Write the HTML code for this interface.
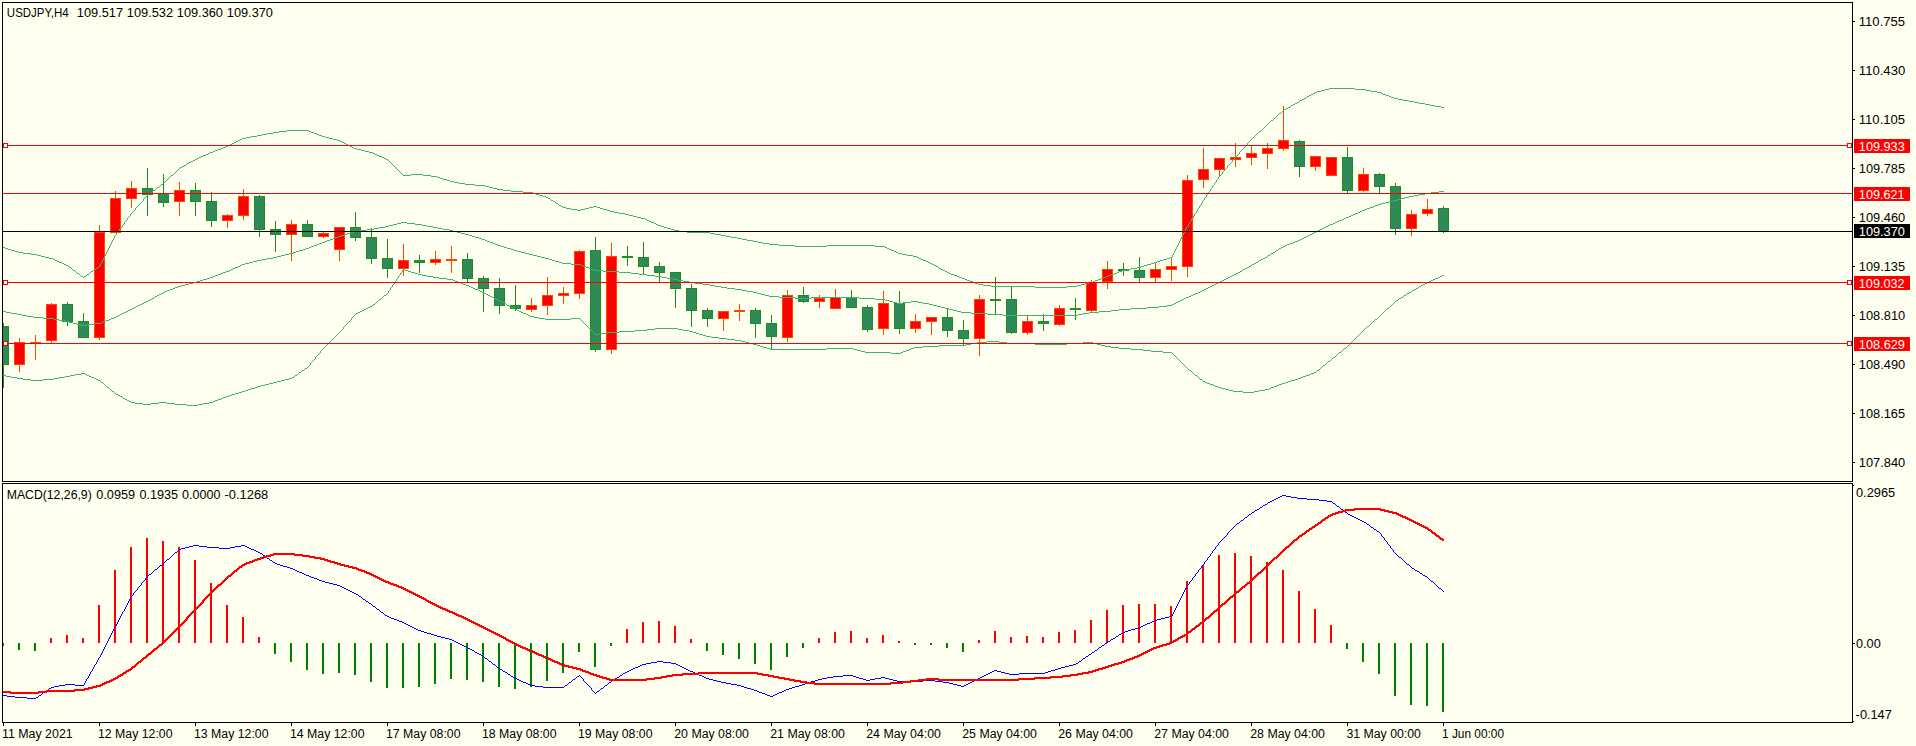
<!DOCTYPE html>
<html><head><meta charset="utf-8"><style>
html,body{margin:0;padding:0;background:#fffff0;width:1916px;height:746px;overflow:hidden}
svg{display:block}
text{font-family:"Liberation Sans", sans-serif;font-size:12.5px}
</style></head><body>
<svg width="1916" height="746" viewBox="0 0 1916 746">
<rect x="0" y="0" width="1916" height="746" fill="#fffff0"/>

<defs><clipPath id="cm"><rect x="3" y="3" width="1849" height="478"/></clipPath><clipPath id="cd"><rect x="3" y="484" width="1849" height="238"/></clipPath></defs>
<g clip-path="url(#cm)" shape-rendering="crispEdges">
<rect x="3" y="323" width="1" height="65" fill="#228b22"/>
<rect x="-2" y="326" width="11" height="39" fill="#228b22"/>
<rect x="-1" y="327" width="9" height="37" fill="#2e8b57"/>
<rect x="19" y="338" width="1" height="34" fill="#ff4500"/>
<rect x="14" y="342" width="11" height="23" fill="#ff4500"/>
<rect x="15" y="343" width="9" height="21" fill="#ff0000"/>
<rect x="35" y="335" width="1" height="25" fill="#ff4500"/>
<rect x="30" y="342" width="11" height="1" fill="#ff4500"/>
<rect x="51" y="303" width="1" height="40" fill="#ff4500"/>
<rect x="46" y="304" width="11" height="37" fill="#ff4500"/>
<rect x="47" y="305" width="9" height="35" fill="#ff0000"/>
<rect x="67" y="302" width="1" height="24" fill="#228b22"/>
<rect x="62" y="304" width="11" height="18" fill="#228b22"/>
<rect x="63" y="305" width="9" height="16" fill="#2e8b57"/>
<rect x="83" y="313" width="1" height="25" fill="#228b22"/>
<rect x="78" y="321" width="11" height="17" fill="#228b22"/>
<rect x="79" y="322" width="9" height="15" fill="#2e8b57"/>
<rect x="99" y="225" width="1" height="115" fill="#ff4500"/>
<rect x="94" y="232" width="11" height="106" fill="#ff4500"/>
<rect x="95" y="233" width="9" height="104" fill="#ff0000"/>
<rect x="115" y="191" width="1" height="42" fill="#ff4500"/>
<rect x="110" y="198" width="11" height="35" fill="#ff4500"/>
<rect x="111" y="199" width="9" height="33" fill="#ff0000"/>
<rect x="131" y="181" width="1" height="27" fill="#ff4500"/>
<rect x="126" y="188" width="11" height="11" fill="#ff4500"/>
<rect x="127" y="189" width="9" height="9" fill="#ff0000"/>
<rect x="147" y="168" width="1" height="48" fill="#228b22"/>
<rect x="142" y="188" width="11" height="7" fill="#228b22"/>
<rect x="143" y="189" width="9" height="5" fill="#2e8b57"/>
<rect x="163" y="174" width="1" height="33" fill="#228b22"/>
<rect x="158" y="193" width="11" height="10" fill="#228b22"/>
<rect x="159" y="194" width="9" height="8" fill="#2e8b57"/>
<rect x="179" y="182" width="1" height="34" fill="#ff4500"/>
<rect x="174" y="190" width="11" height="12" fill="#ff4500"/>
<rect x="175" y="191" width="9" height="10" fill="#ff0000"/>
<rect x="195" y="183" width="1" height="33" fill="#228b22"/>
<rect x="190" y="190" width="11" height="12" fill="#228b22"/>
<rect x="191" y="191" width="9" height="10" fill="#2e8b57"/>
<rect x="211" y="192" width="1" height="35" fill="#228b22"/>
<rect x="206" y="201" width="11" height="20" fill="#228b22"/>
<rect x="207" y="202" width="9" height="18" fill="#2e8b57"/>
<rect x="227" y="214" width="1" height="14" fill="#ff4500"/>
<rect x="222" y="215" width="11" height="6" fill="#ff4500"/>
<rect x="223" y="216" width="9" height="4" fill="#ff0000"/>
<rect x="243" y="189" width="1" height="31" fill="#ff4500"/>
<rect x="238" y="196" width="11" height="20" fill="#ff4500"/>
<rect x="239" y="197" width="9" height="18" fill="#ff0000"/>
<rect x="259" y="195" width="1" height="42" fill="#228b22"/>
<rect x="254" y="196" width="11" height="34" fill="#228b22"/>
<rect x="255" y="197" width="9" height="32" fill="#2e8b57"/>
<rect x="275" y="221" width="1" height="31" fill="#228b22"/>
<rect x="270" y="229" width="11" height="6" fill="#228b22"/>
<rect x="271" y="230" width="9" height="4" fill="#2e8b57"/>
<rect x="291" y="220" width="1" height="41" fill="#ff4500"/>
<rect x="286" y="224" width="11" height="11" fill="#ff4500"/>
<rect x="287" y="225" width="9" height="9" fill="#ff0000"/>
<rect x="307" y="220" width="1" height="17" fill="#228b22"/>
<rect x="302" y="224" width="11" height="13" fill="#228b22"/>
<rect x="303" y="225" width="9" height="11" fill="#2e8b57"/>
<rect x="323" y="231" width="1" height="7" fill="#ff4500"/>
<rect x="318" y="233" width="11" height="4" fill="#ff4500"/>
<rect x="319" y="234" width="9" height="2" fill="#ff0000"/>
<rect x="339" y="227" width="1" height="34" fill="#ff4500"/>
<rect x="334" y="227" width="11" height="23" fill="#ff4500"/>
<rect x="335" y="228" width="9" height="21" fill="#ff0000"/>
<rect x="355" y="212" width="1" height="29" fill="#228b22"/>
<rect x="350" y="227" width="11" height="11" fill="#228b22"/>
<rect x="351" y="228" width="9" height="9" fill="#2e8b57"/>
<rect x="371" y="228" width="1" height="36" fill="#228b22"/>
<rect x="366" y="237" width="11" height="22" fill="#228b22"/>
<rect x="367" y="238" width="9" height="20" fill="#2e8b57"/>
<rect x="387" y="239" width="1" height="39" fill="#228b22"/>
<rect x="382" y="258" width="11" height="11" fill="#228b22"/>
<rect x="383" y="259" width="9" height="9" fill="#2e8b57"/>
<rect x="403" y="244" width="1" height="32" fill="#ff4500"/>
<rect x="398" y="260" width="11" height="9" fill="#ff4500"/>
<rect x="399" y="261" width="9" height="7" fill="#ff0000"/>
<rect x="419" y="255" width="1" height="18" fill="#228b22"/>
<rect x="414" y="260" width="11" height="3" fill="#228b22"/>
<rect x="415" y="261" width="9" height="1" fill="#2e8b57"/>
<rect x="435" y="251" width="1" height="14" fill="#ff4500"/>
<rect x="430" y="259" width="11" height="4" fill="#ff4500"/>
<rect x="431" y="260" width="9" height="2" fill="#ff0000"/>
<rect x="451" y="246" width="1" height="27" fill="#ff4500"/>
<rect x="446" y="259" width="11" height="2" fill="#ff4500"/>
<rect x="467" y="253" width="1" height="30" fill="#228b22"/>
<rect x="462" y="259" width="11" height="20" fill="#228b22"/>
<rect x="463" y="260" width="9" height="18" fill="#2e8b57"/>
<rect x="483" y="276" width="1" height="36" fill="#228b22"/>
<rect x="478" y="278" width="11" height="11" fill="#228b22"/>
<rect x="479" y="279" width="9" height="9" fill="#2e8b57"/>
<rect x="499" y="278" width="1" height="36" fill="#228b22"/>
<rect x="494" y="288" width="11" height="18" fill="#228b22"/>
<rect x="495" y="289" width="9" height="16" fill="#2e8b57"/>
<rect x="515" y="285" width="1" height="26" fill="#228b22"/>
<rect x="510" y="305" width="11" height="4" fill="#228b22"/>
<rect x="511" y="306" width="9" height="2" fill="#2e8b57"/>
<rect x="531" y="298" width="1" height="14" fill="#ff4500"/>
<rect x="526" y="305" width="11" height="5" fill="#ff4500"/>
<rect x="527" y="306" width="9" height="3" fill="#ff0000"/>
<rect x="547" y="277" width="1" height="38" fill="#ff4500"/>
<rect x="542" y="295" width="11" height="11" fill="#ff4500"/>
<rect x="543" y="296" width="9" height="9" fill="#ff0000"/>
<rect x="563" y="287" width="1" height="17" fill="#ff4500"/>
<rect x="558" y="293" width="11" height="3" fill="#ff4500"/>
<rect x="559" y="294" width="9" height="1" fill="#ff0000"/>
<rect x="579" y="250" width="1" height="49" fill="#ff4500"/>
<rect x="574" y="251" width="11" height="43" fill="#ff4500"/>
<rect x="575" y="252" width="9" height="41" fill="#ff0000"/>
<rect x="595" y="237" width="1" height="115" fill="#228b22"/>
<rect x="590" y="250" width="11" height="100" fill="#228b22"/>
<rect x="591" y="251" width="9" height="98" fill="#2e8b57"/>
<rect x="611" y="243" width="1" height="111" fill="#ff4500"/>
<rect x="606" y="256" width="11" height="94" fill="#ff4500"/>
<rect x="607" y="257" width="9" height="92" fill="#ff0000"/>
<rect x="627" y="246" width="1" height="20" fill="#228b22"/>
<rect x="622" y="256" width="11" height="2" fill="#228b22"/>
<rect x="643" y="242" width="1" height="33" fill="#228b22"/>
<rect x="638" y="257" width="11" height="10" fill="#228b22"/>
<rect x="639" y="258" width="9" height="8" fill="#2e8b57"/>
<rect x="659" y="262" width="1" height="20" fill="#228b22"/>
<rect x="654" y="266" width="11" height="7" fill="#228b22"/>
<rect x="655" y="267" width="9" height="5" fill="#2e8b57"/>
<rect x="675" y="272" width="1" height="36" fill="#228b22"/>
<rect x="670" y="272" width="11" height="17" fill="#228b22"/>
<rect x="671" y="273" width="9" height="15" fill="#2e8b57"/>
<rect x="691" y="284" width="1" height="43" fill="#228b22"/>
<rect x="686" y="288" width="11" height="23" fill="#228b22"/>
<rect x="687" y="289" width="9" height="21" fill="#2e8b57"/>
<rect x="707" y="308" width="1" height="19" fill="#228b22"/>
<rect x="702" y="310" width="11" height="9" fill="#228b22"/>
<rect x="703" y="311" width="9" height="7" fill="#2e8b57"/>
<rect x="723" y="311" width="1" height="20" fill="#ff4500"/>
<rect x="718" y="311" width="11" height="8" fill="#ff4500"/>
<rect x="719" y="312" width="9" height="6" fill="#ff0000"/>
<rect x="739" y="304" width="1" height="17" fill="#ff4500"/>
<rect x="734" y="310" width="11" height="2" fill="#ff4500"/>
<rect x="755" y="308" width="1" height="30" fill="#228b22"/>
<rect x="750" y="310" width="11" height="14" fill="#228b22"/>
<rect x="751" y="311" width="9" height="12" fill="#2e8b57"/>
<rect x="771" y="315" width="1" height="34" fill="#228b22"/>
<rect x="766" y="323" width="11" height="14" fill="#228b22"/>
<rect x="767" y="324" width="9" height="12" fill="#2e8b57"/>
<rect x="787" y="290" width="1" height="52" fill="#ff4500"/>
<rect x="782" y="295" width="11" height="43" fill="#ff4500"/>
<rect x="783" y="296" width="9" height="41" fill="#ff0000"/>
<rect x="803" y="287" width="1" height="16" fill="#228b22"/>
<rect x="798" y="295" width="11" height="7" fill="#228b22"/>
<rect x="799" y="296" width="9" height="5" fill="#2e8b57"/>
<rect x="819" y="295" width="1" height="13" fill="#ff4500"/>
<rect x="814" y="298" width="11" height="4" fill="#ff4500"/>
<rect x="815" y="299" width="9" height="2" fill="#ff0000"/>
<rect x="835" y="289" width="1" height="20" fill="#ff4500"/>
<rect x="830" y="297" width="11" height="12" fill="#ff4500"/>
<rect x="831" y="298" width="9" height="10" fill="#ff0000"/>
<rect x="851" y="290" width="1" height="18" fill="#228b22"/>
<rect x="846" y="297" width="11" height="11" fill="#228b22"/>
<rect x="847" y="298" width="9" height="9" fill="#2e8b57"/>
<rect x="867" y="305" width="1" height="27" fill="#228b22"/>
<rect x="862" y="307" width="11" height="23" fill="#228b22"/>
<rect x="863" y="308" width="9" height="21" fill="#2e8b57"/>
<rect x="883" y="291" width="1" height="44" fill="#ff4500"/>
<rect x="878" y="303" width="11" height="26" fill="#ff4500"/>
<rect x="879" y="304" width="9" height="24" fill="#ff0000"/>
<rect x="899" y="291" width="1" height="43" fill="#228b22"/>
<rect x="894" y="303" width="11" height="26" fill="#228b22"/>
<rect x="895" y="304" width="9" height="24" fill="#2e8b57"/>
<rect x="915" y="314" width="1" height="19" fill="#ff4500"/>
<rect x="910" y="321" width="11" height="8" fill="#ff4500"/>
<rect x="911" y="322" width="9" height="6" fill="#ff0000"/>
<rect x="931" y="317" width="1" height="18" fill="#ff4500"/>
<rect x="926" y="317" width="11" height="5" fill="#ff4500"/>
<rect x="927" y="318" width="9" height="3" fill="#ff0000"/>
<rect x="947" y="308" width="1" height="29" fill="#228b22"/>
<rect x="942" y="317" width="11" height="14" fill="#228b22"/>
<rect x="943" y="318" width="9" height="12" fill="#2e8b57"/>
<rect x="963" y="320" width="1" height="25" fill="#228b22"/>
<rect x="958" y="330" width="11" height="9" fill="#228b22"/>
<rect x="959" y="331" width="9" height="7" fill="#2e8b57"/>
<rect x="979" y="295" width="1" height="61" fill="#ff4500"/>
<rect x="974" y="299" width="11" height="40" fill="#ff4500"/>
<rect x="975" y="300" width="9" height="38" fill="#ff0000"/>
<rect x="995" y="277" width="1" height="37" fill="#228b22"/>
<rect x="990" y="299" width="11" height="2" fill="#228b22"/>
<rect x="1011" y="287" width="1" height="47" fill="#228b22"/>
<rect x="1006" y="299" width="11" height="34" fill="#228b22"/>
<rect x="1007" y="300" width="9" height="32" fill="#2e8b57"/>
<rect x="1027" y="316" width="1" height="19" fill="#ff4500"/>
<rect x="1022" y="321" width="11" height="12" fill="#ff4500"/>
<rect x="1023" y="322" width="9" height="10" fill="#ff0000"/>
<rect x="1043" y="314" width="1" height="17" fill="#228b22"/>
<rect x="1038" y="321" width="11" height="3" fill="#228b22"/>
<rect x="1039" y="322" width="9" height="1" fill="#2e8b57"/>
<rect x="1059" y="305" width="1" height="21" fill="#ff4500"/>
<rect x="1054" y="308" width="11" height="17" fill="#ff4500"/>
<rect x="1055" y="309" width="9" height="15" fill="#ff0000"/>
<rect x="1075" y="298" width="1" height="22" fill="#228b22"/>
<rect x="1070" y="308" width="11" height="2" fill="#228b22"/>
<rect x="1091" y="280" width="1" height="32" fill="#ff4500"/>
<rect x="1086" y="282" width="11" height="29" fill="#ff4500"/>
<rect x="1087" y="283" width="9" height="27" fill="#ff0000"/>
<rect x="1107" y="261" width="1" height="28" fill="#ff4500"/>
<rect x="1102" y="269" width="11" height="13" fill="#ff4500"/>
<rect x="1103" y="270" width="9" height="11" fill="#ff0000"/>
<rect x="1123" y="263" width="1" height="13" fill="#228b22"/>
<rect x="1118" y="269" width="11" height="2" fill="#228b22"/>
<rect x="1139" y="257" width="1" height="25" fill="#228b22"/>
<rect x="1134" y="270" width="11" height="8" fill="#228b22"/>
<rect x="1135" y="271" width="9" height="6" fill="#2e8b57"/>
<rect x="1155" y="263" width="1" height="19" fill="#ff4500"/>
<rect x="1150" y="269" width="11" height="9" fill="#ff4500"/>
<rect x="1151" y="270" width="9" height="7" fill="#ff0000"/>
<rect x="1171" y="258" width="1" height="23" fill="#ff4500"/>
<rect x="1166" y="266" width="11" height="4" fill="#ff4500"/>
<rect x="1167" y="267" width="9" height="2" fill="#ff0000"/>
<rect x="1187" y="175" width="1" height="102" fill="#ff4500"/>
<rect x="1182" y="180" width="11" height="87" fill="#ff4500"/>
<rect x="1183" y="181" width="9" height="85" fill="#ff0000"/>
<rect x="1203" y="148" width="1" height="40" fill="#ff4500"/>
<rect x="1198" y="169" width="11" height="11" fill="#ff4500"/>
<rect x="1199" y="170" width="9" height="9" fill="#ff0000"/>
<rect x="1219" y="158" width="1" height="19" fill="#ff4500"/>
<rect x="1214" y="158" width="11" height="12" fill="#ff4500"/>
<rect x="1215" y="159" width="9" height="10" fill="#ff0000"/>
<rect x="1235" y="143" width="1" height="24" fill="#ff4500"/>
<rect x="1230" y="157" width="11" height="3" fill="#ff4500"/>
<rect x="1231" y="158" width="9" height="1" fill="#ff0000"/>
<rect x="1251" y="145" width="1" height="20" fill="#ff4500"/>
<rect x="1246" y="153" width="11" height="5" fill="#ff4500"/>
<rect x="1247" y="154" width="9" height="3" fill="#ff0000"/>
<rect x="1267" y="143" width="1" height="26" fill="#ff4500"/>
<rect x="1262" y="148" width="11" height="6" fill="#ff4500"/>
<rect x="1263" y="149" width="9" height="4" fill="#ff0000"/>
<rect x="1283" y="106" width="1" height="45" fill="#ff4500"/>
<rect x="1278" y="140" width="11" height="9" fill="#ff4500"/>
<rect x="1279" y="141" width="9" height="7" fill="#ff0000"/>
<rect x="1299" y="140" width="1" height="37" fill="#228b22"/>
<rect x="1294" y="141" width="11" height="26" fill="#228b22"/>
<rect x="1295" y="142" width="9" height="24" fill="#2e8b57"/>
<rect x="1315" y="156" width="1" height="15" fill="#ff4500"/>
<rect x="1310" y="156" width="11" height="11" fill="#ff4500"/>
<rect x="1311" y="157" width="9" height="9" fill="#ff0000"/>
<rect x="1331" y="157" width="1" height="19" fill="#ff4500"/>
<rect x="1326" y="157" width="11" height="19" fill="#ff4500"/>
<rect x="1327" y="158" width="9" height="17" fill="#ff0000"/>
<rect x="1347" y="147" width="1" height="46" fill="#228b22"/>
<rect x="1342" y="157" width="11" height="34" fill="#228b22"/>
<rect x="1343" y="158" width="9" height="32" fill="#2e8b57"/>
<rect x="1363" y="168" width="1" height="24" fill="#ff4500"/>
<rect x="1358" y="174" width="11" height="17" fill="#ff4500"/>
<rect x="1359" y="175" width="9" height="15" fill="#ff0000"/>
<rect x="1379" y="173" width="1" height="20" fill="#228b22"/>
<rect x="1374" y="174" width="11" height="13" fill="#228b22"/>
<rect x="1375" y="175" width="9" height="11" fill="#2e8b57"/>
<rect x="1395" y="183" width="1" height="52" fill="#228b22"/>
<rect x="1390" y="186" width="11" height="43" fill="#228b22"/>
<rect x="1391" y="187" width="9" height="41" fill="#2e8b57"/>
<rect x="1411" y="210" width="1" height="26" fill="#ff4500"/>
<rect x="1406" y="214" width="11" height="15" fill="#ff4500"/>
<rect x="1407" y="215" width="9" height="13" fill="#ff0000"/>
<rect x="1427" y="199" width="1" height="17" fill="#ff4500"/>
<rect x="1422" y="209" width="11" height="5" fill="#ff4500"/>
<rect x="1423" y="210" width="9" height="3" fill="#ff0000"/>
<rect x="1443" y="206" width="1" height="27" fill="#228b22"/>
<rect x="1438" y="208" width="11" height="24" fill="#228b22"/>
<rect x="1439" y="209" width="9" height="22" fill="#2e8b57"/>
<g fill="#3cb371"><rect x="110" y="245" width="1" height="1"/><rect x="779" y="245" width="16" height="1"/><rect x="827" y="245" width="48" height="1"/><rect x="1177" y="245" width="1" height="1"/><rect x="1297" y="102" width="2" height="1"/><rect x="1414" y="102" width="5" height="1"/><rect x="991" y="286" width="44" height="1"/><rect x="1067" y="286" width="10" height="1"/><rect x="72" y="269" width="1" height="1"/><rect x="94" y="269" width="2" height="1"/><rect x="941" y="269" width="2" height="1"/><rect x="1126" y="269" width="5" height="1"/><rect x="130" y="214" width="1" height="1"/><rect x="625" y="214" width="4" height="1"/><rect x="1194" y="214" width="1" height="1"/><rect x="117" y="232" width="1" height="1"/><rect x="687" y="232" width="23" height="1"/><rect x="1184" y="232" width="1" height="1"/><rect x="23" y="253" width="8" height="1"/><rect x="106" y="253" width="1" height="1"/><rect x="898" y="253" width="4" height="1"/><rect x="1173" y="253" width="1" height="1"/><rect x="171" y="175" width="2" height="1"/><rect x="403" y="175" width="8" height="1"/><rect x="423" y="175" width="8" height="1"/><rect x="1220" y="175" width="1" height="1"/><rect x="79" y="274" width="1" height="1"/><rect x="87" y="274" width="2" height="1"/><rect x="951" y="274" width="3" height="1"/><rect x="1111" y="274" width="3" height="1"/><rect x="1329" y="88" width="26" height="1"/><rect x="1300" y="100" width="2" height="1"/><rect x="1403" y="100" width="6" height="1"/><rect x="125" y="221" width="1" height="1"/><rect x="649" y="221" width="2" height="1"/><rect x="1190" y="221" width="1" height="1"/><rect x="168" y="178" width="1" height="1"/><rect x="440" y="178" width="3" height="1"/><rect x="1218" y="178" width="1" height="1"/><rect x="1035" y="287" width="32" height="1"/><rect x="114" y="236" width="1" height="1"/><rect x="726" y="236" width="5" height="1"/><rect x="1182" y="236" width="1" height="1"/><rect x="167" y="179" width="1" height="1"/><rect x="443" y="179" width="4" height="1"/><rect x="1217" y="179" width="1" height="1"/><rect x="287" y="130" width="22" height="1"/><rect x="1261" y="130" width="1" height="1"/><rect x="53" y="259" width="2" height="1"/><rect x="103" y="259" width="1" height="1"/><rect x="921" y="259" width="2" height="1"/><rect x="1163" y="259" width="4" height="1"/><rect x="1276" y="116" width="1" height="1"/><rect x="173" y="174" width="1" height="1"/><rect x="402" y="174" width="1" height="1"/><rect x="411" y="174" width="12" height="1"/><rect x="1221" y="174" width="1" height="1"/><rect x="159" y="186" width="1" height="1"/><rect x="485" y="186" width="4" height="1"/><rect x="1212" y="186" width="1" height="1"/><rect x="135" y="208" width="1" height="1"/><rect x="566" y="208" width="5" height="1"/><rect x="585" y="208" width="4" height="1"/><rect x="600" y="208" width="3" height="1"/><rect x="1198" y="208" width="1" height="1"/><rect x="109" y="246" width="1" height="1"/><rect x="795" y="246" width="32" height="1"/><rect x="875" y="246" width="10" height="1"/><rect x="1177" y="246" width="1" height="1"/><rect x="215" y="150" width="3" height="1"/><rect x="361" y="150" width="4" height="1"/><rect x="1241" y="150" width="1" height="1"/><rect x="121" y="227" width="1" height="1"/><rect x="664" y="227" width="3" height="1"/><rect x="1186" y="227" width="1" height="1"/><rect x="157" y="187" width="2" height="1"/><rect x="489" y="187" width="4" height="1"/><rect x="1212" y="187" width="1" height="1"/><rect x="149" y="193" width="2" height="1"/><rect x="533" y="193" width="3" height="1"/><rect x="1208" y="193" width="1" height="1"/><rect x="37" y="255" width="4" height="1"/><rect x="105" y="255" width="1" height="1"/><rect x="907" y="255" width="6" height="1"/><rect x="1172" y="255" width="1" height="1"/><rect x="246" y="137" width="5" height="1"/><rect x="325" y="137" width="4" height="1"/><rect x="1253" y="137" width="1" height="1"/><rect x="983" y="285" width="8" height="1"/><rect x="1077" y="285" width="4" height="1"/><rect x="1317" y="91" width="4" height="1"/><rect x="1371" y="91" width="6" height="1"/><rect x="77" y="273" width="2" height="1"/><rect x="89" y="273" width="1" height="1"/><rect x="949" y="273" width="2" height="1"/><rect x="1114" y="273" width="3" height="1"/><rect x="129" y="216" width="1" height="1"/><rect x="633" y="216" width="4" height="1"/><rect x="1193" y="216" width="1" height="1"/><rect x="137" y="206" width="1" height="1"/><rect x="561" y="206" width="2" height="1"/><rect x="593" y="206" width="4" height="1"/><rect x="1199" y="206" width="1" height="1"/><rect x="122" y="226" width="1" height="1"/><rect x="661" y="226" width="3" height="1"/><rect x="1187" y="226" width="1" height="1"/><rect x="118" y="231" width="1" height="1"/><rect x="679" y="231" width="8" height="1"/><rect x="1184" y="231" width="1" height="1"/><rect x="1304" y="98" width="2" height="1"/><rect x="1394" y="98" width="4" height="1"/><rect x="3" y="247" width="2" height="1"/><rect x="109" y="247" width="1" height="1"/><rect x="885" y="247" width="2" height="1"/><rect x="1176" y="247" width="1" height="1"/><rect x="124" y="223" width="1" height="1"/><rect x="654" y="223" width="2" height="1"/><rect x="1189" y="223" width="1" height="1"/><rect x="133" y="211" width="1" height="1"/><rect x="610" y="211" width="4" height="1"/><rect x="1196" y="211" width="1" height="1"/><rect x="75" y="271" width="1" height="1"/><rect x="91" y="271" width="2" height="1"/><rect x="945" y="271" width="2" height="1"/><rect x="1119" y="271" width="3" height="1"/><rect x="1309" y="95" width="2" height="1"/><rect x="1386" y="95" width="3" height="1"/><rect x="213" y="151" width="2" height="1"/><rect x="365" y="151" width="4" height="1"/><rect x="1240" y="151" width="1" height="1"/><rect x="120" y="228" width="1" height="1"/><rect x="667" y="228" width="4" height="1"/><rect x="1186" y="228" width="1" height="1"/><rect x="115" y="235" width="1" height="1"/><rect x="721" y="235" width="5" height="1"/><rect x="1182" y="235" width="1" height="1"/><rect x="1290" y="106" width="1" height="1"/><rect x="1435" y="106" width="6" height="1"/><rect x="57" y="261" width="2" height="1"/><rect x="102" y="261" width="1" height="1"/><rect x="926" y="261" width="2" height="1"/><rect x="1157" y="261" width="3" height="1"/><rect x="203" y="155" width="3" height="1"/><rect x="377" y="155" width="2" height="1"/><rect x="1237" y="155" width="1" height="1"/><rect x="41" y="256" width="4" height="1"/><rect x="104" y="256" width="1" height="1"/><rect x="913" y="256" width="4" height="1"/><rect x="1172" y="256" width="1" height="1"/><rect x="119" y="230" width="1" height="1"/><rect x="674" y="230" width="5" height="1"/><rect x="1185" y="230" width="1" height="1"/><rect x="1295" y="103" width="2" height="1"/><rect x="1419" y="103" width="6" height="1"/><rect x="45" y="257" width="4" height="1"/><rect x="104" y="257" width="1" height="1"/><rect x="917" y="257" width="2" height="1"/><rect x="1170" y="257" width="2" height="1"/><rect x="160" y="185" width="1" height="1"/><rect x="475" y="185" width="10" height="1"/><rect x="1213" y="185" width="1" height="1"/><rect x="69" y="267" width="2" height="1"/><rect x="97" y="267" width="2" height="1"/><rect x="938" y="267" width="1" height="1"/><rect x="1137" y="267" width="4" height="1"/><rect x="49" y="258" width="4" height="1"/><rect x="103" y="258" width="1" height="1"/><rect x="919" y="258" width="2" height="1"/><rect x="1167" y="258" width="3" height="1"/><rect x="234" y="142" width="2" height="1"/><rect x="342" y="142" width="2" height="1"/><rect x="1248" y="142" width="1" height="1"/><rect x="83" y="277" width="1" height="1"/><rect x="959" y="277" width="3" height="1"/><rect x="1103" y="277" width="3" height="1"/><rect x="218" y="149" width="3" height="1"/><rect x="357" y="149" width="4" height="1"/><rect x="1242" y="149" width="1" height="1"/><rect x="151" y="192" width="1" height="1"/><rect x="523" y="192" width="10" height="1"/><rect x="1208" y="192" width="1" height="1"/><rect x="112" y="240" width="1" height="1"/><rect x="747" y="240" width="6" height="1"/><rect x="1180" y="240" width="1" height="1"/><rect x="1325" y="89" width="4" height="1"/><rect x="1355" y="89" width="11" height="1"/><rect x="130" y="215" width="1" height="1"/><rect x="629" y="215" width="4" height="1"/><rect x="1194" y="215" width="1" height="1"/><rect x="267" y="133" width="6" height="1"/><rect x="314" y="133" width="3" height="1"/><rect x="1257" y="133" width="1" height="1"/><rect x="238" y="140" width="2" height="1"/><rect x="337" y="140" width="3" height="1"/><rect x="1250" y="140" width="1" height="1"/><rect x="80" y="275" width="1" height="1"/><rect x="86" y="275" width="1" height="1"/><rect x="954" y="275" width="3" height="1"/><rect x="1109" y="275" width="2" height="1"/><rect x="152" y="191" width="1" height="1"/><rect x="511" y="191" width="12" height="1"/><rect x="1209" y="191" width="1" height="1"/><rect x="179" y="168" width="1" height="1"/><rect x="396" y="168" width="1" height="1"/><rect x="1226" y="168" width="1" height="1"/><rect x="153" y="190" width="2" height="1"/><rect x="503" y="190" width="8" height="1"/><rect x="1210" y="190" width="1" height="1"/><rect x="135" y="209" width="1" height="1"/><rect x="571" y="209" width="6" height="1"/><rect x="581" y="209" width="4" height="1"/><rect x="603" y="209" width="4" height="1"/><rect x="1197" y="209" width="1" height="1"/><rect x="76" y="272" width="1" height="1"/><rect x="90" y="272" width="1" height="1"/><rect x="947" y="272" width="2" height="1"/><rect x="1117" y="272" width="2" height="1"/><rect x="71" y="268" width="1" height="1"/><rect x="96" y="268" width="1" height="1"/><rect x="939" y="268" width="2" height="1"/><rect x="1131" y="268" width="6" height="1"/><rect x="1302" y="99" width="2" height="1"/><rect x="1398" y="99" width="5" height="1"/><rect x="64" y="264" width="2" height="1"/><rect x="100" y="264" width="1" height="1"/><rect x="932" y="264" width="2" height="1"/><rect x="1147" y="264" width="4" height="1"/><rect x="122" y="225" width="1" height="1"/><rect x="658" y="225" width="3" height="1"/><rect x="1188" y="225" width="1" height="1"/><rect x="257" y="135" width="5" height="1"/><rect x="319" y="135" width="3" height="1"/><rect x="1255" y="135" width="1" height="1"/><rect x="55" y="260" width="2" height="1"/><rect x="102" y="260" width="1" height="1"/><rect x="923" y="260" width="3" height="1"/><rect x="1160" y="260" width="3" height="1"/><rect x="978" y="284" width="5" height="1"/><rect x="1081" y="284" width="4" height="1"/><rect x="113" y="238" width="1" height="1"/><rect x="737" y="238" width="5" height="1"/><rect x="1181" y="238" width="1" height="1"/><rect x="251" y="136" width="6" height="1"/><rect x="322" y="136" width="3" height="1"/><rect x="1254" y="136" width="1" height="1"/><rect x="1293" y="104" width="2" height="1"/><rect x="1425" y="104" width="5" height="1"/><rect x="31" y="254" width="6" height="1"/><rect x="105" y="254" width="1" height="1"/><rect x="902" y="254" width="5" height="1"/><rect x="1173" y="254" width="1" height="1"/><rect x="113" y="239" width="1" height="1"/><rect x="742" y="239" width="5" height="1"/><rect x="1180" y="239" width="1" height="1"/><rect x="236" y="141" width="2" height="1"/><rect x="340" y="141" width="2" height="1"/><rect x="1249" y="141" width="1" height="1"/><rect x="967" y="280" width="3" height="1"/><rect x="1095" y="280" width="3" height="1"/><rect x="279" y="131" width="8" height="1"/><rect x="309" y="131" width="2" height="1"/><rect x="1259" y="131" width="2" height="1"/><rect x="131" y="213" width="1" height="1"/><rect x="619" y="213" width="6" height="1"/><rect x="1195" y="213" width="1" height="1"/><rect x="73" y="270" width="2" height="1"/><rect x="93" y="270" width="1" height="1"/><rect x="943" y="270" width="2" height="1"/><rect x="1122" y="270" width="4" height="1"/><rect x="973" y="282" width="2" height="1"/><rect x="1089" y="282" width="4" height="1"/><rect x="206" y="154" width="2" height="1"/><rect x="375" y="154" width="2" height="1"/><rect x="1238" y="154" width="1" height="1"/><rect x="143" y="200" width="1" height="1"/><rect x="551" y="200" width="2" height="1"/><rect x="1203" y="200" width="1" height="1"/><rect x="134" y="210" width="1" height="1"/><rect x="577" y="210" width="4" height="1"/><rect x="607" y="210" width="3" height="1"/><rect x="1197" y="210" width="1" height="1"/><rect x="136" y="207" width="1" height="1"/><rect x="563" y="207" width="3" height="1"/><rect x="589" y="207" width="4" height="1"/><rect x="597" y="207" width="3" height="1"/><rect x="1199" y="207" width="1" height="1"/><rect x="123" y="224" width="1" height="1"/><rect x="656" y="224" width="2" height="1"/><rect x="1188" y="224" width="1" height="1"/><rect x="166" y="180" width="1" height="1"/><rect x="447" y="180" width="3" height="1"/><rect x="1216" y="180" width="1" height="1"/><rect x="112" y="241" width="1" height="1"/><rect x="753" y="241" width="5" height="1"/><rect x="1179" y="241" width="1" height="1"/><rect x="161" y="184" width="2" height="1"/><rect x="465" y="184" width="10" height="1"/><rect x="1214" y="184" width="1" height="1"/><rect x="163" y="183" width="1" height="1"/><rect x="459" y="183" width="6" height="1"/><rect x="1214" y="183" width="1" height="1"/><rect x="15" y="251" width="3" height="1"/><rect x="107" y="251" width="1" height="1"/><rect x="894" y="251" width="2" height="1"/><rect x="1174" y="251" width="1" height="1"/><rect x="177" y="170" width="1" height="1"/><rect x="398" y="170" width="1" height="1"/><rect x="1224" y="170" width="1" height="1"/><rect x="176" y="171" width="1" height="1"/><rect x="399" y="171" width="1" height="1"/><rect x="1223" y="171" width="1" height="1"/><rect x="1306" y="97" width="1" height="1"/><rect x="1391" y="97" width="3" height="1"/><rect x="228" y="145" width="2" height="1"/><rect x="348" y="145" width="2" height="1"/><rect x="1246" y="145" width="1" height="1"/><rect x="223" y="147" width="3" height="1"/><rect x="352" y="147" width="2" height="1"/><rect x="1244" y="147" width="1" height="1"/><rect x="170" y="176" width="1" height="1"/><rect x="431" y="176" width="6" height="1"/><rect x="1219" y="176" width="1" height="1"/><rect x="143" y="199" width="1" height="1"/><rect x="550" y="199" width="1" height="1"/><rect x="1204" y="199" width="1" height="1"/><rect x="1284" y="109" width="2" height="1"/><rect x="180" y="167" width="2" height="1"/><rect x="395" y="167" width="1" height="1"/><rect x="1227" y="167" width="1" height="1"/><rect x="68" y="266" width="1" height="1"/><rect x="99" y="266" width="1" height="1"/><rect x="936" y="266" width="2" height="1"/><rect x="1141" y="266" width="3" height="1"/><rect x="1281" y="112" width="1" height="1"/><rect x="62" y="263" width="2" height="1"/><rect x="101" y="263" width="1" height="1"/><rect x="930" y="263" width="2" height="1"/><rect x="1151" y="263" width="3" height="1"/><rect x="169" y="177" width="1" height="1"/><rect x="437" y="177" width="3" height="1"/><rect x="1218" y="177" width="1" height="1"/><rect x="975" y="283" width="3" height="1"/><rect x="1085" y="283" width="4" height="1"/><rect x="11" y="250" width="4" height="1"/><rect x="107" y="250" width="1" height="1"/><rect x="891" y="250" width="3" height="1"/><rect x="1175" y="250" width="1" height="1"/><rect x="1311" y="94" width="2" height="1"/><rect x="1383" y="94" width="3" height="1"/><rect x="273" y="132" width="6" height="1"/><rect x="311" y="132" width="3" height="1"/><rect x="1258" y="132" width="1" height="1"/><rect x="1307" y="96" width="2" height="1"/><rect x="1389" y="96" width="2" height="1"/><rect x="59" y="262" width="3" height="1"/><rect x="101" y="262" width="1" height="1"/><rect x="928" y="262" width="2" height="1"/><rect x="1154" y="262" width="3" height="1"/><rect x="124" y="222" width="1" height="1"/><rect x="651" y="222" width="3" height="1"/><rect x="1189" y="222" width="1" height="1"/><rect x="187" y="163" width="2" height="1"/><rect x="391" y="163" width="1" height="1"/><rect x="1230" y="163" width="1" height="1"/><rect x="127" y="219" width="1" height="1"/><rect x="645" y="219" width="2" height="1"/><rect x="1191" y="219" width="1" height="1"/><rect x="18" y="252" width="5" height="1"/><rect x="106" y="252" width="1" height="1"/><rect x="896" y="252" width="2" height="1"/><rect x="1174" y="252" width="1" height="1"/><rect x="1263" y="128" width="1" height="1"/><rect x="156" y="188" width="1" height="1"/><rect x="493" y="188" width="4" height="1"/><rect x="1211" y="188" width="1" height="1"/><rect x="210" y="152" width="3" height="1"/><rect x="369" y="152" width="4" height="1"/><rect x="1239" y="152" width="1" height="1"/><rect x="139" y="204" width="1" height="1"/><rect x="558" y="204" width="1" height="1"/><rect x="1201" y="204" width="1" height="1"/><rect x="1288" y="107" width="2" height="1"/><rect x="1441" y="107" width="3" height="1"/><rect x="110" y="244" width="1" height="1"/><rect x="769" y="244" width="10" height="1"/><rect x="1178" y="244" width="1" height="1"/><rect x="1321" y="90" width="4" height="1"/><rect x="1366" y="90" width="5" height="1"/><rect x="242" y="138" width="4" height="1"/><rect x="329" y="138" width="4" height="1"/><rect x="1252" y="138" width="1" height="1"/><rect x="1267" y="124" width="1" height="1"/><rect x="208" y="153" width="2" height="1"/><rect x="373" y="153" width="2" height="1"/><rect x="1239" y="153" width="1" height="1"/><rect x="5" y="248" width="3" height="1"/><rect x="108" y="248" width="1" height="1"/><rect x="887" y="248" width="2" height="1"/><rect x="1176" y="248" width="1" height="1"/><rect x="142" y="201" width="1" height="1"/><rect x="553" y="201" width="2" height="1"/><rect x="1202" y="201" width="1" height="1"/><rect x="1274" y="118" width="1" height="1"/><rect x="1315" y="92" width="2" height="1"/><rect x="1377" y="92" width="4" height="1"/><rect x="240" y="139" width="2" height="1"/><rect x="333" y="139" width="4" height="1"/><rect x="1251" y="139" width="1" height="1"/><rect x="8" y="249" width="3" height="1"/><rect x="108" y="249" width="1" height="1"/><rect x="889" y="249" width="2" height="1"/><rect x="1175" y="249" width="1" height="1"/><rect x="178" y="169" width="1" height="1"/><rect x="397" y="169" width="1" height="1"/><rect x="1225" y="169" width="1" height="1"/><rect x="226" y="146" width="2" height="1"/><rect x="350" y="146" width="2" height="1"/><rect x="1245" y="146" width="1" height="1"/><rect x="111" y="243" width="1" height="1"/><rect x="763" y="243" width="6" height="1"/><rect x="1178" y="243" width="1" height="1"/><rect x="199" y="157" width="2" height="1"/><rect x="382" y="157" width="2" height="1"/><rect x="1235" y="157" width="1" height="1"/><rect x="126" y="220" width="1" height="1"/><rect x="647" y="220" width="2" height="1"/><rect x="1191" y="220" width="1" height="1"/><rect x="962" y="278" width="3" height="1"/><rect x="1101" y="278" width="2" height="1"/><rect x="174" y="173" width="1" height="1"/><rect x="401" y="173" width="1" height="1"/><rect x="1222" y="173" width="1" height="1"/><rect x="175" y="172" width="1" height="1"/><rect x="400" y="172" width="1" height="1"/><rect x="1222" y="172" width="1" height="1"/><rect x="184" y="165" width="2" height="1"/><rect x="393" y="165" width="1" height="1"/><rect x="1228" y="165" width="1" height="1"/><rect x="1291" y="105" width="2" height="1"/><rect x="1430" y="105" width="5" height="1"/><rect x="66" y="265" width="2" height="1"/><rect x="100" y="265" width="1" height="1"/><rect x="934" y="265" width="2" height="1"/><rect x="1144" y="265" width="3" height="1"/><rect x="146" y="196" width="1" height="1"/><rect x="543" y="196" width="3" height="1"/><rect x="1206" y="196" width="1" height="1"/><rect x="155" y="189" width="1" height="1"/><rect x="497" y="189" width="6" height="1"/><rect x="1210" y="189" width="1" height="1"/><rect x="145" y="197" width="1" height="1"/><rect x="546" y="197" width="2" height="1"/><rect x="1205" y="197" width="1" height="1"/><rect x="195" y="159" width="2" height="1"/><rect x="386" y="159" width="2" height="1"/><rect x="1233" y="159" width="1" height="1"/><rect x="221" y="148" width="2" height="1"/><rect x="354" y="148" width="3" height="1"/><rect x="1243" y="148" width="1" height="1"/><rect x="1275" y="117" width="1" height="1"/><rect x="111" y="242" width="1" height="1"/><rect x="758" y="242" width="5" height="1"/><rect x="1179" y="242" width="1" height="1"/><rect x="1282" y="111" width="1" height="1"/><rect x="116" y="234" width="1" height="1"/><rect x="715" y="234" width="6" height="1"/><rect x="1183" y="234" width="1" height="1"/><rect x="197" y="158" width="2" height="1"/><rect x="384" y="158" width="2" height="1"/><rect x="1234" y="158" width="1" height="1"/><rect x="232" y="143" width="2" height="1"/><rect x="344" y="143" width="2" height="1"/><rect x="1247" y="143" width="1" height="1"/><rect x="119" y="229" width="1" height="1"/><rect x="671" y="229" width="3" height="1"/><rect x="1185" y="229" width="1" height="1"/><rect x="140" y="203" width="1" height="1"/><rect x="556" y="203" width="2" height="1"/><rect x="1201" y="203" width="1" height="1"/><rect x="186" y="164" width="1" height="1"/><rect x="392" y="164" width="1" height="1"/><rect x="1229" y="164" width="1" height="1"/><rect x="1299" y="101" width="1" height="1"/><rect x="1409" y="101" width="5" height="1"/><rect x="116" y="233" width="1" height="1"/><rect x="710" y="233" width="5" height="1"/><rect x="1183" y="233" width="1" height="1"/><rect x="970" y="281" width="3" height="1"/><rect x="1093" y="281" width="2" height="1"/><rect x="1268" y="123" width="1" height="1"/><rect x="128" y="217" width="1" height="1"/><rect x="637" y="217" width="4" height="1"/><rect x="1193" y="217" width="1" height="1"/><rect x="81" y="276" width="2" height="1"/><rect x="84" y="276" width="2" height="1"/><rect x="957" y="276" width="2" height="1"/><rect x="1106" y="276" width="3" height="1"/><rect x="1313" y="93" width="2" height="1"/><rect x="1381" y="93" width="2" height="1"/><rect x="262" y="134" width="5" height="1"/><rect x="317" y="134" width="2" height="1"/><rect x="1256" y="134" width="1" height="1"/><rect x="114" y="237" width="1" height="1"/><rect x="731" y="237" width="6" height="1"/><rect x="1181" y="237" width="1" height="1"/><rect x="132" y="212" width="1" height="1"/><rect x="614" y="212" width="5" height="1"/><rect x="1196" y="212" width="1" height="1"/><rect x="147" y="195" width="1" height="1"/><rect x="539" y="195" width="4" height="1"/><rect x="1206" y="195" width="1" height="1"/><rect x="193" y="160" width="2" height="1"/><rect x="388" y="160" width="1" height="1"/><rect x="1232" y="160" width="1" height="1"/><rect x="138" y="205" width="1" height="1"/><rect x="559" y="205" width="2" height="1"/><rect x="1200" y="205" width="1" height="1"/><rect x="965" y="279" width="2" height="1"/><rect x="1098" y="279" width="3" height="1"/><rect x="144" y="198" width="1" height="1"/><rect x="548" y="198" width="2" height="1"/><rect x="1204" y="198" width="1" height="1"/><rect x="182" y="166" width="2" height="1"/><rect x="394" y="166" width="1" height="1"/><rect x="1227" y="166" width="1" height="1"/><rect x="189" y="162" width="2" height="1"/><rect x="390" y="162" width="1" height="1"/><rect x="1231" y="162" width="1" height="1"/><rect x="148" y="194" width="1" height="1"/><rect x="536" y="194" width="3" height="1"/><rect x="1207" y="194" width="1" height="1"/><rect x="1273" y="119" width="1" height="1"/><rect x="164" y="182" width="1" height="1"/><rect x="454" y="182" width="5" height="1"/><rect x="1215" y="182" width="1" height="1"/><rect x="1264" y="127" width="1" height="1"/><rect x="141" y="202" width="1" height="1"/><rect x="555" y="202" width="1" height="1"/><rect x="1202" y="202" width="1" height="1"/><rect x="1271" y="120" width="2" height="1"/><rect x="127" y="218" width="1" height="1"/><rect x="641" y="218" width="4" height="1"/><rect x="1192" y="218" width="1" height="1"/><rect x="1278" y="114" width="1" height="1"/><rect x="230" y="144" width="2" height="1"/><rect x="346" y="144" width="2" height="1"/><rect x="1247" y="144" width="1" height="1"/><rect x="1286" y="108" width="2" height="1"/><rect x="201" y="156" width="2" height="1"/><rect x="379" y="156" width="3" height="1"/><rect x="1236" y="156" width="1" height="1"/><rect x="191" y="161" width="2" height="1"/><rect x="389" y="161" width="1" height="1"/><rect x="1232" y="161" width="1" height="1"/><rect x="1279" y="113" width="2" height="1"/><rect x="165" y="181" width="1" height="1"/><rect x="450" y="181" width="4" height="1"/><rect x="1216" y="181" width="1" height="1"/><rect x="1265" y="126" width="1" height="1"/><rect x="1269" y="122" width="1" height="1"/><rect x="1266" y="125" width="1" height="1"/><rect x="1277" y="115" width="1" height="1"/><rect x="1283" y="110" width="1" height="1"/><rect x="1270" y="121" width="1" height="1"/><rect x="1262" y="129" width="1" height="1"/></g>
<g fill="#3cb371"><rect x="213" y="276" width="2" height="1"/><rect x="655" y="276" width="7" height="1"/><rect x="1230" y="276" width="2" height="1"/><rect x="163" y="292" width="2" height="1"/><rect x="753" y="292" width="4" height="1"/><rect x="1198" y="292" width="2" height="1"/><rect x="314" y="245" width="3" height="1"/><rect x="498" y="245" width="3" height="1"/><rect x="1285" y="245" width="2" height="1"/><rect x="132" y="308" width="2" height="1"/><rect x="945" y="308" width="4" height="1"/><rect x="1131" y="308" width="16" height="1"/><rect x="59" y="320" width="6" height="1"/><rect x="106" y="320" width="3" height="1"/><rect x="1401" y="198" width="4" height="1"/><rect x="322" y="242" width="3" height="1"/><rect x="490" y="242" width="3" height="1"/><rect x="1293" y="242" width="2" height="1"/><rect x="155" y="296" width="2" height="1"/><rect x="769" y="296" width="10" height="1"/><rect x="1189" y="296" width="2" height="1"/><rect x="341" y="235" width="3" height="1"/><rect x="469" y="235" width="3" height="1"/><rect x="1308" y="235" width="2" height="1"/><rect x="1355" y="213" width="3" height="1"/><rect x="330" y="239" width="3" height="1"/><rect x="482" y="239" width="3" height="1"/><rect x="1300" y="239" width="2" height="1"/><rect x="335" y="237" width="3" height="1"/><rect x="475" y="237" width="4" height="1"/><rect x="1304" y="237" width="2" height="1"/><rect x="238" y="266" width="2" height="1"/><rect x="583" y="266" width="3" height="1"/><rect x="1249" y="266" width="2" height="1"/><rect x="229" y="270" width="2" height="1"/><rect x="594" y="270" width="9" height="1"/><rect x="1242" y="270" width="1" height="1"/><rect x="1419" y="194" width="6" height="1"/><rect x="17" y="314" width="5" height="1"/><rect x="120" y="314" width="2" height="1"/><rect x="987" y="314" width="16" height="1"/><rect x="1078" y="314" width="5" height="1"/><rect x="1389" y="201" width="4" height="1"/><rect x="393" y="224" width="4" height="1"/><rect x="415" y="224" width="7" height="1"/><rect x="1330" y="224" width="3" height="1"/><rect x="385" y="226" width="4" height="1"/><rect x="427" y="226" width="6" height="1"/><rect x="1326" y="226" width="2" height="1"/><rect x="73" y="323" width="4" height="1"/><rect x="95" y="323" width="6" height="1"/><rect x="351" y="232" width="3" height="1"/><rect x="457" y="232" width="4" height="1"/><rect x="1314" y="232" width="2" height="1"/><rect x="154" y="297" width="1" height="1"/><rect x="779" y="297" width="16" height="1"/><rect x="811" y="297" width="48" height="1"/><rect x="1186" y="297" width="3" height="1"/><rect x="221" y="273" width="2" height="1"/><rect x="631" y="273" width="8" height="1"/><rect x="1236" y="273" width="2" height="1"/><rect x="146" y="301" width="2" height="1"/><rect x="889" y="301" width="4" height="1"/><rect x="911" y="301" width="7" height="1"/><rect x="1178" y="301" width="2" height="1"/><rect x="1414" y="195" width="5" height="1"/><rect x="148" y="300" width="2" height="1"/><rect x="885" y="300" width="4" height="1"/><rect x="1180" y="300" width="2" height="1"/><rect x="374" y="228" width="5" height="1"/><rect x="438" y="228" width="5" height="1"/><rect x="1322" y="228" width="2" height="1"/><rect x="303" y="249" width="3" height="1"/><rect x="511" y="249" width="3" height="1"/><rect x="1278" y="249" width="1" height="1"/><rect x="22" y="315" width="5" height="1"/><rect x="118" y="315" width="2" height="1"/><rect x="1003" y="315" width="75" height="1"/><rect x="367" y="229" width="7" height="1"/><rect x="443" y="229" width="6" height="1"/><rect x="1320" y="229" width="2" height="1"/><rect x="293" y="252" width="3" height="1"/><rect x="521" y="252" width="4" height="1"/><rect x="1273" y="252" width="2" height="1"/><rect x="152" y="298" width="2" height="1"/><rect x="795" y="298" width="16" height="1"/><rect x="859" y="298" width="16" height="1"/><rect x="1184" y="298" width="2" height="1"/><rect x="197" y="281" width="3" height="1"/><rect x="683" y="281" width="6" height="1"/><rect x="1220" y="281" width="2" height="1"/><rect x="359" y="230" width="8" height="1"/><rect x="449" y="230" width="4" height="1"/><rect x="1318" y="230" width="2" height="1"/><rect x="215" y="275" width="3" height="1"/><rect x="647" y="275" width="8" height="1"/><rect x="1232" y="275" width="2" height="1"/><rect x="165" y="291" width="2" height="1"/><rect x="747" y="291" width="6" height="1"/><rect x="1200" y="291" width="2" height="1"/><rect x="1373" y="206" width="2" height="1"/><rect x="173" y="288" width="2" height="1"/><rect x="727" y="288" width="8" height="1"/><rect x="1206" y="288" width="2" height="1"/><rect x="379" y="227" width="6" height="1"/><rect x="433" y="227" width="5" height="1"/><rect x="1324" y="227" width="2" height="1"/><rect x="285" y="254" width="4" height="1"/><rect x="529" y="254" width="4" height="1"/><rect x="1270" y="254" width="1" height="1"/><rect x="253" y="261" width="4" height="1"/><rect x="555" y="261" width="4" height="1"/><rect x="1258" y="261" width="1" height="1"/><rect x="6" y="312" width="5" height="1"/><rect x="124" y="312" width="2" height="1"/><rect x="961" y="312" width="10" height="1"/><rect x="1089" y="312" width="10" height="1"/><rect x="306" y="248" width="3" height="1"/><rect x="507" y="248" width="4" height="1"/><rect x="1279" y="248" width="2" height="1"/><rect x="262" y="259" width="5" height="1"/><rect x="549" y="259" width="3" height="1"/><rect x="1261" y="259" width="2" height="1"/><rect x="1425" y="193" width="6" height="1"/><rect x="299" y="250" width="4" height="1"/><rect x="514" y="250" width="3" height="1"/><rect x="1276" y="250" width="2" height="1"/><rect x="159" y="294" width="2" height="1"/><rect x="761" y="294" width="4" height="1"/><rect x="1193" y="294" width="2" height="1"/><rect x="242" y="264" width="3" height="1"/><rect x="571" y="264" width="10" height="1"/><rect x="1252" y="264" width="2" height="1"/><rect x="134" y="307" width="2" height="1"/><rect x="941" y="307" width="4" height="1"/><rect x="1147" y="307" width="12" height="1"/><rect x="325" y="241" width="2" height="1"/><rect x="487" y="241" width="3" height="1"/><rect x="1295" y="241" width="3" height="1"/><rect x="333" y="238" width="2" height="1"/><rect x="479" y="238" width="3" height="1"/><rect x="1302" y="238" width="2" height="1"/><rect x="210" y="277" width="3" height="1"/><rect x="662" y="277" width="5" height="1"/><rect x="1228" y="277" width="2" height="1"/><rect x="128" y="310" width="2" height="1"/><rect x="953" y="310" width="4" height="1"/><rect x="1111" y="310" width="8" height="1"/><rect x="142" y="303" width="2" height="1"/><rect x="897" y="303" width="6" height="1"/><rect x="923" y="303" width="6" height="1"/><rect x="1174" y="303" width="2" height="1"/><rect x="223" y="272" width="3" height="1"/><rect x="619" y="272" width="12" height="1"/><rect x="1238" y="272" width="2" height="1"/><rect x="3" y="311" width="3" height="1"/><rect x="126" y="311" width="2" height="1"/><rect x="957" y="311" width="4" height="1"/><rect x="1099" y="311" width="12" height="1"/><rect x="140" y="304" width="2" height="1"/><rect x="929" y="304" width="4" height="1"/><rect x="1172" y="304" width="2" height="1"/><rect x="257" y="260" width="5" height="1"/><rect x="552" y="260" width="3" height="1"/><rect x="1259" y="260" width="2" height="1"/><rect x="200" y="280" width="3" height="1"/><rect x="678" y="280" width="5" height="1"/><rect x="1222" y="280" width="2" height="1"/><rect x="203" y="279" width="4" height="1"/><rect x="673" y="279" width="5" height="1"/><rect x="1224" y="279" width="2" height="1"/><rect x="138" y="305" width="2" height="1"/><rect x="933" y="305" width="4" height="1"/><rect x="1167" y="305" width="5" height="1"/><rect x="193" y="282" width="4" height="1"/><rect x="689" y="282" width="6" height="1"/><rect x="1218" y="282" width="2" height="1"/><rect x="178" y="286" width="3" height="1"/><rect x="715" y="286" width="6" height="1"/><rect x="1210" y="286" width="2" height="1"/><rect x="144" y="302" width="2" height="1"/><rect x="893" y="302" width="4" height="1"/><rect x="903" y="302" width="8" height="1"/><rect x="918" y="302" width="5" height="1"/><rect x="1176" y="302" width="2" height="1"/><rect x="157" y="295" width="2" height="1"/><rect x="765" y="295" width="4" height="1"/><rect x="1191" y="295" width="2" height="1"/><rect x="54" y="319" width="5" height="1"/><rect x="109" y="319" width="2" height="1"/><rect x="185" y="284" width="4" height="1"/><rect x="703" y="284" width="7" height="1"/><rect x="1214" y="284" width="2" height="1"/><rect x="181" y="285" width="4" height="1"/><rect x="710" y="285" width="5" height="1"/><rect x="1212" y="285" width="2" height="1"/><rect x="397" y="223" width="4" height="1"/><rect x="407" y="223" width="8" height="1"/><rect x="1333" y="223" width="2" height="1"/><rect x="354" y="231" width="5" height="1"/><rect x="453" y="231" width="4" height="1"/><rect x="1316" y="231" width="2" height="1"/><rect x="296" y="251" width="3" height="1"/><rect x="517" y="251" width="4" height="1"/><rect x="1275" y="251" width="1" height="1"/><rect x="175" y="287" width="3" height="1"/><rect x="721" y="287" width="6" height="1"/><rect x="1208" y="287" width="2" height="1"/><rect x="317" y="244" width="2" height="1"/><rect x="495" y="244" width="3" height="1"/><rect x="1287" y="244" width="3" height="1"/><rect x="401" y="222" width="6" height="1"/><rect x="1335" y="222" width="2" height="1"/><rect x="273" y="257" width="4" height="1"/><rect x="541" y="257" width="4" height="1"/><rect x="1265" y="257" width="2" height="1"/><rect x="136" y="306" width="2" height="1"/><rect x="937" y="306" width="4" height="1"/><rect x="1159" y="306" width="8" height="1"/><rect x="267" y="258" width="6" height="1"/><rect x="545" y="258" width="4" height="1"/><rect x="1263" y="258" width="2" height="1"/><rect x="130" y="309" width="2" height="1"/><rect x="949" y="309" width="4" height="1"/><rect x="1119" y="309" width="12" height="1"/><rect x="344" y="234" width="3" height="1"/><rect x="465" y="234" width="4" height="1"/><rect x="1310" y="234" width="2" height="1"/><rect x="189" y="283" width="4" height="1"/><rect x="695" y="283" width="8" height="1"/><rect x="1216" y="283" width="2" height="1"/><rect x="81" y="325" width="6" height="1"/><rect x="231" y="269" width="2" height="1"/><rect x="591" y="269" width="3" height="1"/><rect x="1243" y="269" width="2" height="1"/><rect x="11" y="313" width="6" height="1"/><rect x="122" y="313" width="2" height="1"/><rect x="971" y="313" width="16" height="1"/><rect x="1083" y="313" width="6" height="1"/><rect x="1409" y="196" width="5" height="1"/><rect x="226" y="271" width="3" height="1"/><rect x="603" y="271" width="16" height="1"/><rect x="1240" y="271" width="2" height="1"/><rect x="347" y="233" width="4" height="1"/><rect x="461" y="233" width="4" height="1"/><rect x="1312" y="233" width="2" height="1"/><rect x="1397" y="199" width="4" height="1"/><rect x="1358" y="212" width="2" height="1"/><rect x="1385" y="202" width="4" height="1"/><rect x="233" y="268" width="2" height="1"/><rect x="589" y="268" width="2" height="1"/><rect x="1245" y="268" width="2" height="1"/><rect x="1353" y="214" width="2" height="1"/><rect x="167" y="290" width="3" height="1"/><rect x="742" y="290" width="5" height="1"/><rect x="1202" y="290" width="2" height="1"/><rect x="249" y="262" width="4" height="1"/><rect x="559" y="262" width="3" height="1"/><rect x="1256" y="262" width="2" height="1"/><rect x="289" y="253" width="4" height="1"/><rect x="525" y="253" width="4" height="1"/><rect x="1271" y="253" width="2" height="1"/><rect x="43" y="318" width="11" height="1"/><rect x="111" y="318" width="3" height="1"/><rect x="277" y="256" width="4" height="1"/><rect x="537" y="256" width="4" height="1"/><rect x="1267" y="256" width="1" height="1"/><rect x="207" y="278" width="3" height="1"/><rect x="667" y="278" width="6" height="1"/><rect x="1226" y="278" width="2" height="1"/><rect x="1375" y="205" width="3" height="1"/><rect x="27" y="316" width="6" height="1"/><rect x="116" y="316" width="2" height="1"/><rect x="170" y="289" width="3" height="1"/><rect x="735" y="289" width="7" height="1"/><rect x="1204" y="289" width="2" height="1"/><rect x="245" y="263" width="4" height="1"/><rect x="562" y="263" width="9" height="1"/><rect x="1254" y="263" width="2" height="1"/><rect x="1365" y="209" width="2" height="1"/><rect x="319" y="243" width="3" height="1"/><rect x="493" y="243" width="2" height="1"/><rect x="1290" y="243" width="3" height="1"/><rect x="327" y="240" width="3" height="1"/><rect x="485" y="240" width="2" height="1"/><rect x="1298" y="240" width="2" height="1"/><rect x="1360" y="211" width="2" height="1"/><rect x="33" y="317" width="10" height="1"/><rect x="114" y="317" width="2" height="1"/><rect x="150" y="299" width="2" height="1"/><rect x="875" y="299" width="10" height="1"/><rect x="1182" y="299" width="2" height="1"/><rect x="77" y="324" width="4" height="1"/><rect x="87" y="324" width="8" height="1"/><rect x="1337" y="221" width="2" height="1"/><rect x="235" y="267" width="3" height="1"/><rect x="586" y="267" width="3" height="1"/><rect x="1247" y="267" width="2" height="1"/><rect x="1431" y="192" width="8" height="1"/><rect x="240" y="265" width="2" height="1"/><rect x="581" y="265" width="2" height="1"/><rect x="1251" y="265" width="1" height="1"/><rect x="161" y="293" width="2" height="1"/><rect x="757" y="293" width="4" height="1"/><rect x="1195" y="293" width="3" height="1"/><rect x="338" y="236" width="3" height="1"/><rect x="472" y="236" width="3" height="1"/><rect x="1306" y="236" width="2" height="1"/><rect x="1344" y="218" width="2" height="1"/><rect x="218" y="274" width="3" height="1"/><rect x="639" y="274" width="8" height="1"/><rect x="1234" y="274" width="2" height="1"/><rect x="1346" y="217" width="3" height="1"/><rect x="1342" y="219" width="2" height="1"/><rect x="389" y="225" width="4" height="1"/><rect x="422" y="225" width="5" height="1"/><rect x="1328" y="225" width="2" height="1"/><rect x="1362" y="210" width="3" height="1"/><rect x="65" y="321" width="4" height="1"/><rect x="103" y="321" width="3" height="1"/><rect x="311" y="246" width="3" height="1"/><rect x="501" y="246" width="3" height="1"/><rect x="1283" y="246" width="2" height="1"/><rect x="281" y="255" width="4" height="1"/><rect x="533" y="255" width="4" height="1"/><rect x="1268" y="255" width="2" height="1"/><rect x="1349" y="216" width="2" height="1"/><rect x="1405" y="197" width="4" height="1"/><rect x="1393" y="200" width="4" height="1"/><rect x="1381" y="203" width="4" height="1"/><rect x="309" y="247" width="2" height="1"/><rect x="504" y="247" width="3" height="1"/><rect x="1281" y="247" width="2" height="1"/><rect x="69" y="322" width="4" height="1"/><rect x="101" y="322" width="2" height="1"/><rect x="1351" y="215" width="2" height="1"/><rect x="1378" y="204" width="3" height="1"/><rect x="1339" y="220" width="3" height="1"/><rect x="1370" y="207" width="3" height="1"/><rect x="1439" y="191" width="5" height="1"/><rect x="1367" y="208" width="3" height="1"/></g>
<g fill="#3cb371"><rect x="103" y="383" width="1" height="1"/><rect x="269" y="383" width="4" height="1"/><rect x="1207" y="383" width="3" height="1"/><rect x="1282" y="383" width="3" height="1"/><rect x="109" y="388" width="1" height="1"/><rect x="251" y="388" width="4" height="1"/><rect x="1221" y="388" width="4" height="1"/><rect x="1269" y="388" width="2" height="1"/><rect x="143" y="404" width="8" height="1"/><rect x="175" y="404" width="12" height="1"/><rect x="198" y="404" width="5" height="1"/><rect x="360" y="311" width="2" height="1"/><rect x="519" y="311" width="2" height="1"/><rect x="1384" y="311" width="1" height="1"/><rect x="320" y="352" width="1" height="1"/><rect x="865" y="352" width="26" height="1"/><rect x="901" y="352" width="2" height="1"/><rect x="1163" y="352" width="9" height="1"/><rect x="1339" y="352" width="2" height="1"/><rect x="329" y="342" width="1" height="1"/><rect x="745" y="342" width="4" height="1"/><rect x="977" y="342" width="10" height="1"/><rect x="999" y="342" width="8" height="1"/><rect x="1083" y="342" width="10" height="1"/><rect x="1351" y="342" width="1" height="1"/><rect x="107" y="387" width="2" height="1"/><rect x="255" y="387" width="3" height="1"/><rect x="1218" y="387" width="3" height="1"/><rect x="1271" y="387" width="3" height="1"/><rect x="324" y="347" width="1" height="1"/><rect x="763" y="347" width="4" height="1"/><rect x="914" y="347" width="9" height="1"/><rect x="1111" y="347" width="8" height="1"/><rect x="1346" y="347" width="1" height="1"/><rect x="135" y="403" width="8" height="1"/><rect x="151" y="403" width="8" height="1"/><rect x="167" y="403" width="8" height="1"/><rect x="203" y="403" width="6" height="1"/><rect x="106" y="386" width="1" height="1"/><rect x="258" y="386" width="3" height="1"/><rect x="1215" y="386" width="3" height="1"/><rect x="1274" y="386" width="3" height="1"/><rect x="112" y="391" width="2" height="1"/><rect x="242" y="391" width="3" height="1"/><rect x="1233" y="391" width="10" height="1"/><rect x="1254" y="391" width="5" height="1"/><rect x="307" y="367" width="1" height="1"/><rect x="1186" y="367" width="1" height="1"/><rect x="1321" y="367" width="1" height="1"/><rect x="322" y="349" width="1" height="1"/><rect x="770" y="349" width="57" height="1"/><rect x="853" y="349" width="4" height="1"/><rect x="909" y="349" width="2" height="1"/><rect x="1131" y="349" width="12" height="1"/><rect x="1343" y="349" width="1" height="1"/><rect x="384" y="295" width="2" height="1"/><rect x="488" y="295" width="2" height="1"/><rect x="1404" y="295" width="2" height="1"/><rect x="6" y="376" width="5" height="1"/><rect x="65" y="376" width="5" height="1"/><rect x="89" y="376" width="2" height="1"/><rect x="294" y="376" width="1" height="1"/><rect x="1197" y="376" width="1" height="1"/><rect x="1303" y="376" width="3" height="1"/><rect x="334" y="337" width="1" height="1"/><rect x="711" y="337" width="8" height="1"/><rect x="1356" y="337" width="1" height="1"/><rect x="23" y="379" width="8" height="1"/><rect x="43" y="379" width="11" height="1"/><rect x="96" y="379" width="2" height="1"/><rect x="285" y="379" width="4" height="1"/><rect x="1200" y="379" width="2" height="1"/><rect x="1295" y="379" width="3" height="1"/><rect x="131" y="402" width="4" height="1"/><rect x="159" y="402" width="8" height="1"/><rect x="209" y="402" width="4" height="1"/><rect x="390" y="288" width="1" height="1"/><rect x="473" y="288" width="2" height="1"/><rect x="1416" y="288" width="2" height="1"/><rect x="337" y="334" width="1" height="1"/><rect x="595" y="334" width="4" height="1"/><rect x="699" y="334" width="4" height="1"/><rect x="1359" y="334" width="1" height="1"/><rect x="342" y="329" width="1" height="1"/><rect x="590" y="329" width="1" height="1"/><rect x="647" y="329" width="8" height="1"/><rect x="678" y="329" width="5" height="1"/><rect x="1364" y="329" width="1" height="1"/><rect x="11" y="377" width="6" height="1"/><rect x="59" y="377" width="6" height="1"/><rect x="91" y="377" width="3" height="1"/><rect x="292" y="377" width="2" height="1"/><rect x="1198" y="377" width="1" height="1"/><rect x="1301" y="377" width="2" height="1"/><rect x="125" y="399" width="2" height="1"/><rect x="218" y="399" width="3" height="1"/><rect x="339" y="332" width="1" height="1"/><rect x="593" y="332" width="1" height="1"/><rect x="607" y="332" width="12" height="1"/><rect x="693" y="332" width="3" height="1"/><rect x="1361" y="332" width="1" height="1"/><rect x="320" y="351" width="1" height="1"/><rect x="861" y="351" width="4" height="1"/><rect x="903" y="351" width="3" height="1"/><rect x="1151" y="351" width="12" height="1"/><rect x="1341" y="351" width="1" height="1"/><rect x="101" y="382" width="2" height="1"/><rect x="273" y="382" width="4" height="1"/><rect x="1205" y="382" width="2" height="1"/><rect x="1285" y="382" width="3" height="1"/><rect x="299" y="372" width="2" height="1"/><rect x="1192" y="372" width="1" height="1"/><rect x="1314" y="372" width="2" height="1"/><rect x="351" y="318" width="1" height="1"/><rect x="539" y="318" width="6" height="1"/><rect x="571" y="318" width="9" height="1"/><rect x="1377" y="318" width="1" height="1"/><rect x="373" y="304" width="2" height="1"/><rect x="506" y="304" width="1" height="1"/><rect x="1392" y="304" width="1" height="1"/><rect x="328" y="343" width="1" height="1"/><rect x="749" y="343" width="4" height="1"/><rect x="971" y="343" width="6" height="1"/><rect x="1007" y="343" width="28" height="1"/><rect x="1067" y="343" width="16" height="1"/><rect x="1093" y="343" width="4" height="1"/><rect x="1350" y="343" width="1" height="1"/><rect x="345" y="325" width="1" height="1"/><rect x="586" y="325" width="1" height="1"/><rect x="1369" y="325" width="1" height="1"/><rect x="105" y="385" width="1" height="1"/><rect x="261" y="385" width="4" height="1"/><rect x="1213" y="385" width="2" height="1"/><rect x="1277" y="385" width="2" height="1"/><rect x="323" y="348" width="1" height="1"/><rect x="767" y="348" width="3" height="1"/><rect x="827" y="348" width="26" height="1"/><rect x="911" y="348" width="3" height="1"/><rect x="1119" y="348" width="12" height="1"/><rect x="1344" y="348" width="2" height="1"/><rect x="343" y="328" width="1" height="1"/><rect x="589" y="328" width="1" height="1"/><rect x="655" y="328" width="23" height="1"/><rect x="1365" y="328" width="1" height="1"/><rect x="330" y="341" width="1" height="1"/><rect x="741" y="341" width="4" height="1"/><rect x="987" y="341" width="12" height="1"/><rect x="1352" y="341" width="1" height="1"/><rect x="308" y="366" width="1" height="1"/><rect x="1185" y="366" width="1" height="1"/><rect x="1322" y="366" width="1" height="1"/><rect x="399" y="275" width="1" height="1"/><rect x="422" y="275" width="5" height="1"/><rect x="1442" y="275" width="2" height="1"/><rect x="340" y="331" width="1" height="1"/><rect x="592" y="331" width="1" height="1"/><rect x="619" y="331" width="16" height="1"/><rect x="689" y="331" width="4" height="1"/><rect x="1362" y="331" width="1" height="1"/><rect x="381" y="298" width="1" height="1"/><rect x="494" y="298" width="2" height="1"/><rect x="1399" y="298" width="2" height="1"/><rect x="400" y="273" width="1" height="1"/><rect x="415" y="273" width="3" height="1"/><rect x="325" y="346" width="1" height="1"/><rect x="760" y="346" width="3" height="1"/><rect x="923" y="346" width="16" height="1"/><rect x="1105" y="346" width="6" height="1"/><rect x="1347" y="346" width="1" height="1"/><rect x="17" y="378" width="6" height="1"/><rect x="54" y="378" width="5" height="1"/><rect x="94" y="378" width="2" height="1"/><rect x="289" y="378" width="3" height="1"/><rect x="1199" y="378" width="1" height="1"/><rect x="1298" y="378" width="3" height="1"/><rect x="321" y="350" width="1" height="1"/><rect x="857" y="350" width="4" height="1"/><rect x="906" y="350" width="3" height="1"/><rect x="1143" y="350" width="8" height="1"/><rect x="1342" y="350" width="1" height="1"/><rect x="313" y="360" width="1" height="1"/><rect x="1179" y="360" width="1" height="1"/><rect x="1330" y="360" width="1" height="1"/><rect x="341" y="330" width="1" height="1"/><rect x="591" y="330" width="1" height="1"/><rect x="635" y="330" width="12" height="1"/><rect x="683" y="330" width="6" height="1"/><rect x="1363" y="330" width="1" height="1"/><rect x="116" y="394" width="2" height="1"/><rect x="232" y="394" width="3" height="1"/><rect x="331" y="340" width="1" height="1"/><rect x="735" y="340" width="6" height="1"/><rect x="1353" y="340" width="1" height="1"/><rect x="353" y="316" width="1" height="1"/><rect x="530" y="316" width="4" height="1"/><rect x="1379" y="316" width="1" height="1"/><rect x="354" y="315" width="1" height="1"/><rect x="528" y="315" width="2" height="1"/><rect x="1380" y="315" width="1" height="1"/><rect x="356" y="313" width="2" height="1"/><rect x="523" y="313" width="3" height="1"/><rect x="1382" y="313" width="1" height="1"/><rect x="318" y="354" width="1" height="1"/><rect x="1173" y="354" width="1" height="1"/><rect x="1337" y="354" width="1" height="1"/><rect x="327" y="344" width="1" height="1"/><rect x="753" y="344" width="4" height="1"/><rect x="966" y="344" width="5" height="1"/><rect x="1035" y="344" width="32" height="1"/><rect x="1097" y="344" width="4" height="1"/><rect x="1349" y="344" width="1" height="1"/><rect x="100" y="381" width="1" height="1"/><rect x="277" y="381" width="4" height="1"/><rect x="1203" y="381" width="2" height="1"/><rect x="1288" y="381" width="3" height="1"/><rect x="304" y="369" width="1" height="1"/><rect x="1188" y="369" width="1" height="1"/><rect x="1319" y="369" width="1" height="1"/><rect x="378" y="300" width="1" height="1"/><rect x="498" y="300" width="2" height="1"/><rect x="1396" y="300" width="2" height="1"/><rect x="335" y="336" width="1" height="1"/><rect x="706" y="336" width="5" height="1"/><rect x="1357" y="336" width="1" height="1"/><rect x="398" y="276" width="1" height="1"/><rect x="427" y="276" width="6" height="1"/><rect x="1440" y="276" width="2" height="1"/><rect x="390" y="289" width="1" height="1"/><rect x="475" y="289" width="3" height="1"/><rect x="1414" y="289" width="2" height="1"/><rect x="346" y="324" width="1" height="1"/><rect x="585" y="324" width="1" height="1"/><rect x="1370" y="324" width="1" height="1"/><rect x="368" y="307" width="2" height="1"/><rect x="511" y="307" width="2" height="1"/><rect x="1389" y="307" width="1" height="1"/><rect x="104" y="384" width="1" height="1"/><rect x="265" y="384" width="4" height="1"/><rect x="1210" y="384" width="3" height="1"/><rect x="1279" y="384" width="3" height="1"/><rect x="352" y="317" width="1" height="1"/><rect x="534" y="317" width="5" height="1"/><rect x="1378" y="317" width="1" height="1"/><rect x="347" y="323" width="1" height="1"/><rect x="584" y="323" width="1" height="1"/><rect x="1371" y="323" width="1" height="1"/><rect x="338" y="333" width="1" height="1"/><rect x="594" y="333" width="1" height="1"/><rect x="599" y="333" width="8" height="1"/><rect x="696" y="333" width="3" height="1"/><rect x="1360" y="333" width="1" height="1"/><rect x="379" y="299" width="2" height="1"/><rect x="496" y="299" width="2" height="1"/><rect x="1398" y="299" width="1" height="1"/><rect x="31" y="380" width="12" height="1"/><rect x="98" y="380" width="2" height="1"/><rect x="281" y="380" width="4" height="1"/><rect x="1202" y="380" width="1" height="1"/><rect x="1291" y="380" width="4" height="1"/><rect x="388" y="292" width="1" height="1"/><rect x="482" y="292" width="2" height="1"/><rect x="1409" y="292" width="2" height="1"/><rect x="396" y="279" width="1" height="1"/><rect x="447" y="279" width="6" height="1"/><rect x="1433" y="279" width="2" height="1"/><rect x="332" y="339" width="1" height="1"/><rect x="727" y="339" width="8" height="1"/><rect x="1354" y="339" width="1" height="1"/><rect x="122" y="397" width="1" height="1"/><rect x="223" y="397" width="3" height="1"/><rect x="386" y="294" width="1" height="1"/><rect x="486" y="294" width="2" height="1"/><rect x="1406" y="294" width="1" height="1"/><rect x="392" y="286" width="1" height="1"/><rect x="469" y="286" width="2" height="1"/><rect x="1419" y="286" width="2" height="1"/><rect x="389" y="290" width="1" height="1"/><rect x="478" y="290" width="2" height="1"/><rect x="1412" y="290" width="2" height="1"/><rect x="391" y="287" width="1" height="1"/><rect x="471" y="287" width="2" height="1"/><rect x="1418" y="287" width="1" height="1"/><rect x="3" y="375" width="3" height="1"/><rect x="70" y="375" width="5" height="1"/><rect x="87" y="375" width="2" height="1"/><rect x="295" y="375" width="2" height="1"/><rect x="1195" y="375" width="2" height="1"/><rect x="1306" y="375" width="3" height="1"/><rect x="316" y="356" width="1" height="1"/><rect x="1175" y="356" width="1" height="1"/><rect x="1335" y="356" width="1" height="1"/><rect x="395" y="281" width="1" height="1"/><rect x="455" y="281" width="3" height="1"/><rect x="1429" y="281" width="2" height="1"/><rect x="315" y="357" width="1" height="1"/><rect x="1176" y="357" width="1" height="1"/><rect x="1333" y="357" width="2" height="1"/><rect x="351" y="319" width="1" height="1"/><rect x="545" y="319" width="26" height="1"/><rect x="580" y="319" width="1" height="1"/><rect x="1375" y="319" width="2" height="1"/><rect x="401" y="272" width="1" height="1"/><rect x="411" y="272" width="4" height="1"/><rect x="326" y="345" width="1" height="1"/><rect x="757" y="345" width="3" height="1"/><rect x="939" y="345" width="27" height="1"/><rect x="1101" y="345" width="4" height="1"/><rect x="1348" y="345" width="1" height="1"/><rect x="336" y="335" width="1" height="1"/><rect x="703" y="335" width="3" height="1"/><rect x="1358" y="335" width="1" height="1"/><rect x="75" y="374" width="6" height="1"/><rect x="85" y="374" width="2" height="1"/><rect x="297" y="374" width="1" height="1"/><rect x="1194" y="374" width="1" height="1"/><rect x="1309" y="374" width="2" height="1"/><rect x="397" y="278" width="1" height="1"/><rect x="439" y="278" width="8" height="1"/><rect x="1435" y="278" width="3" height="1"/><rect x="310" y="363" width="1" height="1"/><rect x="1182" y="363" width="1" height="1"/><rect x="1326" y="363" width="1" height="1"/><rect x="111" y="390" width="1" height="1"/><rect x="245" y="390" width="3" height="1"/><rect x="1229" y="390" width="4" height="1"/><rect x="1259" y="390" width="6" height="1"/><rect x="392" y="285" width="1" height="1"/><rect x="466" y="285" width="3" height="1"/><rect x="1421" y="285" width="2" height="1"/><rect x="115" y="393" width="1" height="1"/><rect x="235" y="393" width="4" height="1"/><rect x="315" y="358" width="1" height="1"/><rect x="1177" y="358" width="1" height="1"/><rect x="1332" y="358" width="1" height="1"/><rect x="387" y="293" width="1" height="1"/><rect x="484" y="293" width="2" height="1"/><rect x="1407" y="293" width="2" height="1"/><rect x="394" y="282" width="1" height="1"/><rect x="458" y="282" width="3" height="1"/><rect x="1427" y="282" width="2" height="1"/><rect x="127" y="400" width="2" height="1"/><rect x="215" y="400" width="3" height="1"/><rect x="393" y="284" width="1" height="1"/><rect x="463" y="284" width="3" height="1"/><rect x="1423" y="284" width="2" height="1"/><rect x="402" y="271" width="1" height="1"/><rect x="408" y="271" width="3" height="1"/><rect x="312" y="361" width="1" height="1"/><rect x="1180" y="361" width="1" height="1"/><rect x="1328" y="361" width="2" height="1"/><rect x="187" y="405" width="11" height="1"/><rect x="309" y="365" width="1" height="1"/><rect x="1184" y="365" width="1" height="1"/><rect x="1323" y="365" width="2" height="1"/><rect x="123" y="398" width="2" height="1"/><rect x="221" y="398" width="2" height="1"/><rect x="317" y="355" width="1" height="1"/><rect x="1174" y="355" width="1" height="1"/><rect x="1336" y="355" width="1" height="1"/><rect x="114" y="392" width="1" height="1"/><rect x="239" y="392" width="3" height="1"/><rect x="1243" y="392" width="11" height="1"/><rect x="400" y="274" width="1" height="1"/><rect x="418" y="274" width="4" height="1"/><rect x="394" y="283" width="1" height="1"/><rect x="461" y="283" width="2" height="1"/><rect x="1425" y="283" width="2" height="1"/><rect x="319" y="353" width="1" height="1"/><rect x="891" y="353" width="10" height="1"/><rect x="1172" y="353" width="1" height="1"/><rect x="1338" y="353" width="1" height="1"/><rect x="81" y="373" width="4" height="1"/><rect x="298" y="373" width="1" height="1"/><rect x="1193" y="373" width="1" height="1"/><rect x="1311" y="373" width="3" height="1"/><rect x="110" y="389" width="1" height="1"/><rect x="248" y="389" width="3" height="1"/><rect x="1225" y="389" width="4" height="1"/><rect x="1265" y="389" width="4" height="1"/><rect x="366" y="308" width="2" height="1"/><rect x="513" y="308" width="2" height="1"/><rect x="1387" y="308" width="2" height="1"/><rect x="301" y="371" width="1" height="1"/><rect x="1191" y="371" width="1" height="1"/><rect x="1316" y="371" width="1" height="1"/><rect x="358" y="312" width="2" height="1"/><rect x="521" y="312" width="2" height="1"/><rect x="1383" y="312" width="1" height="1"/><rect x="383" y="296" width="1" height="1"/><rect x="490" y="296" width="2" height="1"/><rect x="1403" y="296" width="1" height="1"/><rect x="370" y="306" width="2" height="1"/><rect x="509" y="306" width="2" height="1"/><rect x="1390" y="306" width="1" height="1"/><rect x="305" y="368" width="2" height="1"/><rect x="1187" y="368" width="1" height="1"/><rect x="1320" y="368" width="1" height="1"/><rect x="396" y="280" width="1" height="1"/><rect x="453" y="280" width="2" height="1"/><rect x="1431" y="280" width="2" height="1"/><rect x="382" y="297" width="1" height="1"/><rect x="492" y="297" width="2" height="1"/><rect x="1401" y="297" width="2" height="1"/><rect x="120" y="396" width="2" height="1"/><rect x="226" y="396" width="3" height="1"/><rect x="129" y="401" width="2" height="1"/><rect x="213" y="401" width="2" height="1"/><rect x="398" y="277" width="1" height="1"/><rect x="433" y="277" width="6" height="1"/><rect x="1438" y="277" width="2" height="1"/><rect x="403" y="269" width="2" height="1"/><rect x="302" y="370" width="2" height="1"/><rect x="1189" y="370" width="2" height="1"/><rect x="1317" y="370" width="2" height="1"/><rect x="118" y="395" width="2" height="1"/><rect x="229" y="395" width="3" height="1"/><rect x="310" y="364" width="1" height="1"/><rect x="1183" y="364" width="1" height="1"/><rect x="1325" y="364" width="1" height="1"/><rect x="355" y="314" width="1" height="1"/><rect x="526" y="314" width="2" height="1"/><rect x="1381" y="314" width="1" height="1"/><rect x="362" y="310" width="2" height="1"/><rect x="517" y="310" width="2" height="1"/><rect x="1385" y="310" width="1" height="1"/><rect x="343" y="327" width="1" height="1"/><rect x="588" y="327" width="1" height="1"/><rect x="1366" y="327" width="1" height="1"/><rect x="375" y="303" width="1" height="1"/><rect x="504" y="303" width="2" height="1"/><rect x="1393" y="303" width="1" height="1"/><rect x="344" y="326" width="1" height="1"/><rect x="587" y="326" width="1" height="1"/><rect x="1367" y="326" width="2" height="1"/><rect x="377" y="301" width="1" height="1"/><rect x="500" y="301" width="2" height="1"/><rect x="1395" y="301" width="1" height="1"/><rect x="350" y="320" width="1" height="1"/><rect x="581" y="320" width="1" height="1"/><rect x="1374" y="320" width="1" height="1"/><rect x="372" y="305" width="1" height="1"/><rect x="507" y="305" width="2" height="1"/><rect x="1391" y="305" width="1" height="1"/><rect x="388" y="291" width="1" height="1"/><rect x="480" y="291" width="2" height="1"/><rect x="1411" y="291" width="1" height="1"/><rect x="333" y="338" width="1" height="1"/><rect x="719" y="338" width="8" height="1"/><rect x="1355" y="338" width="1" height="1"/><rect x="364" y="309" width="2" height="1"/><rect x="515" y="309" width="2" height="1"/><rect x="1386" y="309" width="1" height="1"/><rect x="311" y="362" width="1" height="1"/><rect x="1181" y="362" width="1" height="1"/><rect x="1327" y="362" width="1" height="1"/><rect x="402" y="270" width="1" height="1"/><rect x="405" y="270" width="3" height="1"/><rect x="376" y="302" width="1" height="1"/><rect x="502" y="302" width="2" height="1"/><rect x="1394" y="302" width="1" height="1"/><rect x="349" y="321" width="1" height="1"/><rect x="582" y="321" width="1" height="1"/><rect x="1373" y="321" width="1" height="1"/><rect x="348" y="322" width="1" height="1"/><rect x="583" y="322" width="1" height="1"/><rect x="1372" y="322" width="1" height="1"/><rect x="314" y="359" width="1" height="1"/><rect x="1178" y="359" width="1" height="1"/><rect x="1331" y="359" width="1" height="1"/></g>
<rect x="3" y="145" width="1849" height="1" fill="#ff0000"/>
<rect x="3" y="193" width="1849" height="1" fill="#ff0000"/>
<rect x="3" y="282" width="1849" height="1" fill="#ff0000"/>
<rect x="3" y="343" width="1849" height="1" fill="#ff0000"/>
<rect x="3" y="231" width="1849" height="1" fill="#000000"/>
</g>
<g shape-rendering="crispEdges">
<rect x="3.5" y="143.5" width="4" height="4" fill="#ffffff" stroke="#ff0000" stroke-width="1"/>
<rect x="1847.5" y="143.5" width="4" height="4" fill="#ffffff" stroke="#ff0000" stroke-width="1"/>
<rect x="3.5" y="280.5" width="4" height="4" fill="#ffffff" stroke="#ff0000" stroke-width="1"/>
<rect x="1847.5" y="280.5" width="4" height="4" fill="#ffffff" stroke="#ff0000" stroke-width="1"/>
<rect x="3.5" y="341.5" width="4" height="4" fill="#ffffff" stroke="#ff0000" stroke-width="1"/>
<rect x="1847.5" y="341.5" width="4" height="4" fill="#ffffff" stroke="#ff0000" stroke-width="1"/>
</g>
<g shape-rendering="crispEdges" fill="none" stroke="#000" stroke-width="1">
<rect x="2.5" y="2.5" width="1850" height="479"/>
<rect x="2.5" y="483.5" width="1850" height="239"/>
</g>
<g shape-rendering="crispEdges" fill="#000">
<rect x="1853" y="21" width="2" height="1"/>
<rect x="1853" y="70" width="2" height="1"/>
<rect x="1853" y="119" width="2" height="1"/>
<rect x="1853" y="168" width="2" height="1"/>
<rect x="1853" y="217" width="2" height="1"/>
<rect x="1853" y="266" width="2" height="1"/>
<rect x="1853" y="315" width="2" height="1"/>
<rect x="1853" y="364" width="2" height="1"/>
<rect x="1853" y="413" width="2" height="1"/>
<rect x="1853" y="462" width="2" height="1"/>
<rect x="1853" y="485" width="1" height="1"/>
<rect x="1853" y="643" width="2" height="1"/>
<rect x="1853" y="721" width="1" height="1"/>
</g>
<text x="1858.83" y="26" fill="#000" font-size="12.5" textLength="46.21" lengthAdjust="spacingAndGlyphs">110.755</text>
<text x="1858.82" y="75" fill="#000" font-size="12.5" textLength="46.41" lengthAdjust="spacingAndGlyphs">110.430</text>
<text x="1858.83" y="124" fill="#000" font-size="12.5" textLength="46.21" lengthAdjust="spacingAndGlyphs">110.105</text>
<text x="1858.83" y="173" fill="#000" font-size="12.5" textLength="46.21" lengthAdjust="spacingAndGlyphs">109.785</text>
<text x="1858.82" y="222" fill="#000" font-size="12.5" textLength="46.41" lengthAdjust="spacingAndGlyphs">109.460</text>
<text x="1858.83" y="271" fill="#000" font-size="12.5" textLength="46.21" lengthAdjust="spacingAndGlyphs">109.135</text>
<text x="1858.82" y="320" fill="#000" font-size="12.5" textLength="46.41" lengthAdjust="spacingAndGlyphs">108.810</text>
<text x="1858.82" y="369" fill="#000" font-size="12.5" textLength="46.41" lengthAdjust="spacingAndGlyphs">108.490</text>
<text x="1858.83" y="418" fill="#000" font-size="12.5" textLength="46.21" lengthAdjust="spacingAndGlyphs">108.165</text>
<text x="1858.82" y="467" fill="#000" font-size="12.5" textLength="46.41" lengthAdjust="spacingAndGlyphs">107.840</text>
<g shape-rendering="crispEdges">
<rect x="1854" y="139" width="56" height="14" fill="#ff0000"/>
<rect x="1854" y="187" width="56" height="14" fill="#ff0000"/>
<rect x="1854" y="224" width="56" height="14" fill="#000000"/>
<rect x="1854" y="276" width="56" height="14" fill="#ff0000"/>
<rect x="1854" y="337" width="56" height="14" fill="#ff0000"/>
</g>
<text x="1858.83" y="151" fill="#fff" font-size="12.5" textLength="45.91" lengthAdjust="spacingAndGlyphs">109.933</text>
<text x="1858.83" y="199" fill="#fff" font-size="12.5" textLength="45.83" lengthAdjust="spacingAndGlyphs">109.621</text>
<text x="1858.83" y="236" fill="#fff" font-size="12.5" textLength="46.01" lengthAdjust="spacingAndGlyphs">109.370</text>
<text x="1858.84" y="288" fill="#fff" font-size="12.5" textLength="45.76" lengthAdjust="spacingAndGlyphs">109.032</text>
<text x="1858.83" y="349" fill="#fff" font-size="12.5" textLength="46.07" lengthAdjust="spacingAndGlyphs">108.629</text>
<text x="6.83" y="17" fill="#000" font-size="12.5" textLength="61.80" lengthAdjust="spacingAndGlyphs">USDJPY,H4</text>
<text x="76.83" y="17" fill="#000" font-size="12.5" textLength="46.22" lengthAdjust="spacingAndGlyphs">109.517</text>
<text x="126.83" y="17" fill="#000" font-size="12.5" textLength="46.22" lengthAdjust="spacingAndGlyphs">109.532</text>
<text x="176.83" y="17" fill="#000" font-size="12.5" textLength="46.07" lengthAdjust="spacingAndGlyphs">109.360</text>
<text x="226.83" y="17" fill="#000" font-size="12.5" textLength="46.07" lengthAdjust="spacingAndGlyphs">109.370</text>
<g clip-path="url(#cd)" shape-rendering="crispEdges">
<rect x="2" y="643" width="2" height="3" fill="#008000"/>
<rect x="18" y="643" width="2" height="7" fill="#008000"/>
<rect x="34" y="643" width="2" height="8" fill="#008000"/>
<rect x="50" y="638" width="2" height="5" fill="#ff0000"/>
<rect x="66" y="635" width="2" height="8" fill="#ff0000"/>
<rect x="82" y="638" width="2" height="5" fill="#ff0000"/>
<rect x="98" y="605" width="2" height="38" fill="#ff0000"/>
<rect x="114" y="570" width="2" height="73" fill="#ff0000"/>
<rect x="130" y="547" width="2" height="96" fill="#ff0000"/>
<rect x="146" y="538" width="2" height="105" fill="#ff0000"/>
<rect x="162" y="541" width="2" height="102" fill="#ff0000"/>
<rect x="178" y="547" width="2" height="96" fill="#ff0000"/>
<rect x="194" y="560" width="2" height="83" fill="#ff0000"/>
<rect x="210" y="583" width="2" height="60" fill="#ff0000"/>
<rect x="226" y="605" width="2" height="38" fill="#ff0000"/>
<rect x="242" y="617" width="2" height="26" fill="#ff0000"/>
<rect x="258" y="637" width="2" height="6" fill="#ff0000"/>
<rect x="274" y="643" width="2" height="11" fill="#008000"/>
<rect x="290" y="643" width="2" height="19" fill="#008000"/>
<rect x="306" y="643" width="2" height="27" fill="#008000"/>
<rect x="322" y="643" width="2" height="31" fill="#008000"/>
<rect x="338" y="643" width="2" height="30" fill="#008000"/>
<rect x="354" y="643" width="2" height="32" fill="#008000"/>
<rect x="370" y="643" width="2" height="39" fill="#008000"/>
<rect x="386" y="643" width="2" height="45" fill="#008000"/>
<rect x="402" y="643" width="2" height="45" fill="#008000"/>
<rect x="418" y="643" width="2" height="44" fill="#008000"/>
<rect x="434" y="643" width="2" height="41" fill="#008000"/>
<rect x="450" y="643" width="2" height="36" fill="#008000"/>
<rect x="466" y="643" width="2" height="37" fill="#008000"/>
<rect x="482" y="643" width="2" height="39" fill="#008000"/>
<rect x="498" y="643" width="2" height="44" fill="#008000"/>
<rect x="514" y="643" width="2" height="46" fill="#008000"/>
<rect x="530" y="643" width="2" height="44" fill="#008000"/>
<rect x="546" y="643" width="2" height="38" fill="#008000"/>
<rect x="562" y="643" width="2" height="30" fill="#008000"/>
<rect x="578" y="643" width="2" height="9" fill="#008000"/>
<rect x="594" y="643" width="2" height="24" fill="#008000"/>
<rect x="610" y="643" width="2" height="3" fill="#008000"/>
<rect x="626" y="629" width="2" height="14" fill="#ff0000"/>
<rect x="642" y="622" width="2" height="21" fill="#ff0000"/>
<rect x="658" y="621" width="2" height="22" fill="#ff0000"/>
<rect x="674" y="626" width="2" height="17" fill="#ff0000"/>
<rect x="690" y="639" width="2" height="4" fill="#ff0000"/>
<rect x="706" y="643" width="2" height="8" fill="#008000"/>
<rect x="722" y="643" width="2" height="12" fill="#008000"/>
<rect x="738" y="643" width="2" height="16" fill="#008000"/>
<rect x="754" y="643" width="2" height="21" fill="#008000"/>
<rect x="770" y="643" width="2" height="27" fill="#008000"/>
<rect x="786" y="643" width="2" height="14" fill="#008000"/>
<rect x="802" y="643" width="2" height="5" fill="#008000"/>
<rect x="818" y="638" width="2" height="5" fill="#ff0000"/>
<rect x="834" y="632" width="2" height="11" fill="#ff0000"/>
<rect x="850" y="631" width="2" height="12" fill="#ff0000"/>
<rect x="866" y="638" width="2" height="5" fill="#ff0000"/>
<rect x="882" y="635" width="2" height="8" fill="#ff0000"/>
<rect x="898" y="641" width="2" height="2" fill="#ff0000"/>
<rect x="914" y="643" width="2" height="2" fill="#008000"/>
<rect x="930" y="643" width="2" height="2" fill="#008000"/>
<rect x="946" y="643" width="2" height="5" fill="#008000"/>
<rect x="962" y="643" width="2" height="9" fill="#008000"/>
<rect x="978" y="640" width="2" height="3" fill="#ff0000"/>
<rect x="994" y="631" width="2" height="12" fill="#ff0000"/>
<rect x="1010" y="637" width="2" height="6" fill="#ff0000"/>
<rect x="1026" y="636" width="2" height="7" fill="#ff0000"/>
<rect x="1042" y="637" width="2" height="6" fill="#ff0000"/>
<rect x="1058" y="632" width="2" height="11" fill="#ff0000"/>
<rect x="1074" y="630" width="2" height="13" fill="#ff0000"/>
<rect x="1090" y="620" width="2" height="23" fill="#ff0000"/>
<rect x="1106" y="610" width="2" height="33" fill="#ff0000"/>
<rect x="1122" y="605" width="2" height="38" fill="#ff0000"/>
<rect x="1138" y="604" width="2" height="39" fill="#ff0000"/>
<rect x="1154" y="604" width="2" height="39" fill="#ff0000"/>
<rect x="1170" y="606" width="2" height="37" fill="#ff0000"/>
<rect x="1186" y="581" width="2" height="62" fill="#ff0000"/>
<rect x="1202" y="565" width="2" height="78" fill="#ff0000"/>
<rect x="1218" y="555" width="2" height="88" fill="#ff0000"/>
<rect x="1234" y="553" width="2" height="90" fill="#ff0000"/>
<rect x="1250" y="556" width="2" height="87" fill="#ff0000"/>
<rect x="1266" y="562" width="2" height="81" fill="#ff0000"/>
<rect x="1282" y="570" width="2" height="73" fill="#ff0000"/>
<rect x="1298" y="591" width="2" height="52" fill="#ff0000"/>
<rect x="1314" y="609" width="2" height="34" fill="#ff0000"/>
<rect x="1330" y="625" width="2" height="18" fill="#ff0000"/>
<rect x="1346" y="643" width="2" height="6" fill="#008000"/>
<rect x="1362" y="643" width="2" height="19" fill="#008000"/>
<rect x="1378" y="643" width="2" height="31" fill="#008000"/>
<rect x="1394" y="643" width="2" height="53" fill="#008000"/>
<rect x="1410" y="643" width="2" height="62" fill="#008000"/>
<rect x="1426" y="643" width="2" height="63" fill="#008000"/>
<rect x="1442" y="643" width="2" height="69" fill="#008000"/>
<g fill="#0000ff"><rect x="145" y="579" width="1" height="1"/><rect x="317" y="579" width="2" height="1"/><rect x="1192" y="579" width="1" height="1"/><rect x="1429" y="579" width="1" height="1"/><rect x="90" y="673" width="1" height="1"/><rect x="507" y="673" width="1" height="1"/><rect x="623" y="673" width="2" height="1"/><rect x="695" y="673" width="2" height="1"/><rect x="988" y="673" width="2" height="1"/><rect x="1005" y="673" width="4" height="1"/><rect x="1019" y="673" width="26" height="1"/><rect x="59" y="685" width="6" height="1"/><rect x="75" y="685" width="9" height="1"/><rect x="530" y="685" width="5" height="1"/><rect x="565" y="685" width="2" height="1"/><rect x="588" y="685" width="1" height="1"/><rect x="605" y="685" width="2" height="1"/><rect x="737" y="685" width="4" height="1"/><rect x="799" y="685" width="3" height="1"/><rect x="957" y="685" width="4" height="1"/><rect x="964" y="685" width="2" height="1"/><rect x="147" y="576" width="1" height="1"/><rect x="309" y="576" width="2" height="1"/><rect x="1194" y="576" width="1" height="1"/><rect x="1425" y="576" width="2" height="1"/><rect x="90" y="672" width="1" height="1"/><rect x="505" y="672" width="2" height="1"/><rect x="625" y="672" width="2" height="1"/><rect x="693" y="672" width="2" height="1"/><rect x="990" y="672" width="2" height="1"/><rect x="1001" y="672" width="4" height="1"/><rect x="1045" y="672" width="3" height="1"/><rect x="96" y="663" width="1" height="1"/><rect x="492" y="663" width="1" height="1"/><rect x="646" y="663" width="5" height="1"/><rect x="671" y="663" width="5" height="1"/><rect x="1076" y="663" width="2" height="1"/><rect x="124" y="609" width="1" height="1"/><rect x="377" y="609" width="2" height="1"/><rect x="1175" y="609" width="1" height="1"/><rect x="89" y="674" width="1" height="1"/><rect x="508" y="674" width="2" height="1"/><rect x="622" y="674" width="1" height="1"/><rect x="697" y="674" width="2" height="1"/><rect x="986" y="674" width="2" height="1"/><rect x="1009" y="674" width="10" height="1"/><rect x="162" y="564" width="1" height="1"/><rect x="277" y="564" width="3" height="1"/><rect x="1203" y="564" width="1" height="1"/><rect x="1407" y="564" width="2" height="1"/><rect x="93" y="667" width="1" height="1"/><rect x="497" y="667" width="2" height="1"/><rect x="635" y="667" width="3" height="1"/><rect x="682" y="667" width="2" height="1"/><rect x="1061" y="667" width="4" height="1"/><rect x="51" y="687" width="3" height="1"/><rect x="543" y="687" width="21" height="1"/><rect x="590" y="687" width="1" height="1"/><rect x="603" y="687" width="1" height="1"/><rect x="744" y="687" width="3" height="1"/><rect x="792" y="687" width="3" height="1"/><rect x="99" y="657" width="1" height="1"/><rect x="484" y="657" width="1" height="1"/><rect x="1085" y="657" width="1" height="1"/><rect x="101" y="653" width="1" height="1"/><rect x="477" y="653" width="2" height="1"/><rect x="1091" y="653" width="1" height="1"/><rect x="120" y="616" width="1" height="1"/><rect x="387" y="616" width="2" height="1"/><rect x="1169" y="616" width="3" height="1"/><rect x="84" y="683" width="1" height="1"/><rect x="526" y="683" width="2" height="1"/><rect x="568" y="683" width="1" height="1"/><rect x="586" y="683" width="1" height="1"/><rect x="608" y="683" width="1" height="1"/><rect x="726" y="683" width="5" height="1"/><rect x="805" y="683" width="3" height="1"/><rect x="949" y="683" width="4" height="1"/><rect x="968" y="683" width="2" height="1"/><rect x="1239" y="522" width="1" height="1"/><rect x="1364" y="522" width="2" height="1"/><rect x="101" y="654" width="1" height="1"/><rect x="479" y="654" width="2" height="1"/><rect x="1089" y="654" width="2" height="1"/><rect x="1220" y="541" width="1" height="1"/><rect x="1386" y="541" width="1" height="1"/><rect x="1278" y="497" width="2" height="1"/><rect x="1291" y="497" width="6" height="1"/><rect x="107" y="641" width="1" height="1"/><rect x="454" y="641" width="2" height="1"/><rect x="1108" y="641" width="2" height="1"/><rect x="181" y="548" width="4" height="1"/><rect x="219" y="548" width="11" height="1"/><rect x="249" y="548" width="2" height="1"/><rect x="1215" y="548" width="1" height="1"/><rect x="1391" y="548" width="1" height="1"/><rect x="120" y="617" width="1" height="1"/><rect x="389" y="617" width="2" height="1"/><rect x="1165" y="617" width="4" height="1"/><rect x="1244" y="518" width="1" height="1"/><rect x="1356" y="518" width="2" height="1"/><rect x="45" y="691" width="1" height="1"/><rect x="593" y="691" width="1" height="1"/><rect x="597" y="691" width="2" height="1"/><rect x="757" y="691" width="2" height="1"/><rect x="782" y="691" width="2" height="1"/><rect x="138" y="587" width="1" height="1"/><rect x="342" y="587" width="2" height="1"/><rect x="1186" y="587" width="1" height="1"/><rect x="1438" y="587" width="1" height="1"/><rect x="95" y="664" width="1" height="1"/><rect x="493" y="664" width="2" height="1"/><rect x="642" y="664" width="4" height="1"/><rect x="676" y="664" width="2" height="1"/><rect x="1073" y="664" width="3" height="1"/><rect x="86" y="679" width="1" height="1"/><rect x="517" y="679" width="2" height="1"/><rect x="573" y="679" width="2" height="1"/><rect x="583" y="679" width="1" height="1"/><rect x="614" y="679" width="1" height="1"/><rect x="709" y="679" width="4" height="1"/><rect x="818" y="679" width="4" height="1"/><rect x="863" y="679" width="3" height="1"/><rect x="870" y="679" width="5" height="1"/><rect x="889" y="679" width="4" height="1"/><rect x="976" y="679" width="2" height="1"/><rect x="127" y="603" width="1" height="1"/><rect x="369" y="603" width="2" height="1"/><rect x="1178" y="603" width="1" height="1"/><rect x="86" y="680" width="1" height="1"/><rect x="519" y="680" width="2" height="1"/><rect x="572" y="680" width="1" height="1"/><rect x="583" y="680" width="1" height="1"/><rect x="612" y="680" width="2" height="1"/><rect x="713" y="680" width="4" height="1"/><rect x="815" y="680" width="3" height="1"/><rect x="866" y="680" width="4" height="1"/><rect x="893" y="680" width="4" height="1"/><rect x="923" y="680" width="12" height="1"/><rect x="974" y="680" width="2" height="1"/><rect x="134" y="592" width="1" height="1"/><rect x="352" y="592" width="2" height="1"/><rect x="1183" y="592" width="1" height="1"/><rect x="185" y="547" width="4" height="1"/><rect x="207" y="547" width="12" height="1"/><rect x="230" y="547" width="5" height="1"/><rect x="247" y="547" width="2" height="1"/><rect x="1215" y="547" width="1" height="1"/><rect x="1390" y="547" width="1" height="1"/><rect x="154" y="570" width="1" height="1"/><rect x="295" y="570" width="2" height="1"/><rect x="1198" y="570" width="1" height="1"/><rect x="1415" y="570" width="2" height="1"/><rect x="122" y="612" width="1" height="1"/><rect x="381" y="612" width="2" height="1"/><rect x="1173" y="612" width="1" height="1"/><rect x="96" y="662" width="1" height="1"/><rect x="491" y="662" width="1" height="1"/><rect x="651" y="662" width="6" height="1"/><rect x="663" y="662" width="8" height="1"/><rect x="1078" y="662" width="1" height="1"/><rect x="1270" y="501" width="2" height="1"/><rect x="1327" y="501" width="5" height="1"/><rect x="1280" y="496" width="2" height="1"/><rect x="1286" y="496" width="5" height="1"/><rect x="119" y="619" width="1" height="1"/><rect x="394" y="619" width="3" height="1"/><rect x="1157" y="619" width="4" height="1"/><rect x="91" y="671" width="1" height="1"/><rect x="503" y="671" width="2" height="1"/><rect x="627" y="671" width="2" height="1"/><rect x="690" y="671" width="3" height="1"/><rect x="992" y="671" width="2" height="1"/><rect x="997" y="671" width="4" height="1"/><rect x="1048" y="671" width="3" height="1"/><rect x="94" y="665" width="1" height="1"/><rect x="495" y="665" width="1" height="1"/><rect x="640" y="665" width="2" height="1"/><rect x="678" y="665" width="2" height="1"/><rect x="1069" y="665" width="4" height="1"/><rect x="1272" y="500" width="2" height="1"/><rect x="1319" y="500" width="8" height="1"/><rect x="189" y="546" width="4" height="1"/><rect x="199" y="546" width="8" height="1"/><rect x="235" y="546" width="6" height="1"/><rect x="245" y="546" width="2" height="1"/><rect x="1216" y="546" width="1" height="1"/><rect x="1390" y="546" width="1" height="1"/><rect x="144" y="580" width="1" height="1"/><rect x="319" y="580" width="3" height="1"/><rect x="1191" y="580" width="1" height="1"/><rect x="1430" y="580" width="1" height="1"/><rect x="85" y="681" width="1" height="1"/><rect x="521" y="681" width="2" height="1"/><rect x="571" y="681" width="1" height="1"/><rect x="584" y="681" width="1" height="1"/><rect x="611" y="681" width="1" height="1"/><rect x="717" y="681" width="4" height="1"/><rect x="811" y="681" width="4" height="1"/><rect x="897" y="681" width="26" height="1"/><rect x="935" y="681" width="8" height="1"/><rect x="972" y="681" width="2" height="1"/><rect x="49" y="688" width="2" height="1"/><rect x="591" y="688" width="1" height="1"/><rect x="601" y="688" width="2" height="1"/><rect x="747" y="688" width="4" height="1"/><rect x="789" y="688" width="3" height="1"/><rect x="139" y="586" width="1" height="1"/><rect x="340" y="586" width="2" height="1"/><rect x="1186" y="586" width="1" height="1"/><rect x="1437" y="586" width="1" height="1"/><rect x="88" y="676" width="1" height="1"/><rect x="511" y="676" width="2" height="1"/><rect x="577" y="676" width="2" height="1"/><rect x="580" y="676" width="1" height="1"/><rect x="619" y="676" width="1" height="1"/><rect x="702" y="676" width="2" height="1"/><rect x="833" y="676" width="10" height="1"/><rect x="853" y="676" width="3" height="1"/><rect x="982" y="676" width="2" height="1"/><rect x="1263" y="505" width="2" height="1"/><rect x="1336" y="505" width="1" height="1"/><rect x="126" y="605" width="1" height="1"/><rect x="372" y="605" width="1" height="1"/><rect x="1177" y="605" width="1" height="1"/><rect x="116" y="625" width="1" height="1"/><rect x="408" y="625" width="2" height="1"/><rect x="1143" y="625" width="2" height="1"/><rect x="43" y="692" width="2" height="1"/><rect x="594" y="692" width="1" height="1"/><rect x="596" y="692" width="1" height="1"/><rect x="759" y="692" width="3" height="1"/><rect x="779" y="692" width="3" height="1"/><rect x="160" y="565" width="2" height="1"/><rect x="280" y="565" width="3" height="1"/><rect x="1202" y="565" width="1" height="1"/><rect x="1409" y="565" width="1" height="1"/><rect x="149" y="574" width="2" height="1"/><rect x="304" y="574" width="2" height="1"/><rect x="1195" y="574" width="1" height="1"/><rect x="1422" y="574" width="1" height="1"/><rect x="104" y="647" width="1" height="1"/><rect x="466" y="647" width="2" height="1"/><rect x="1099" y="647" width="2" height="1"/><rect x="106" y="643" width="1" height="1"/><rect x="458" y="643" width="2" height="1"/><rect x="1105" y="643" width="2" height="1"/><rect x="1282" y="495" width="4" height="1"/><rect x="159" y="566" width="1" height="1"/><rect x="283" y="566" width="4" height="1"/><rect x="1201" y="566" width="1" height="1"/><rect x="1410" y="566" width="1" height="1"/><rect x="1254" y="511" width="1" height="1"/><rect x="1344" y="511" width="1" height="1"/><rect x="87" y="678" width="1" height="1"/><rect x="515" y="678" width="2" height="1"/><rect x="575" y="678" width="1" height="1"/><rect x="582" y="678" width="1" height="1"/><rect x="615" y="678" width="2" height="1"/><rect x="706" y="678" width="3" height="1"/><rect x="822" y="678" width="5" height="1"/><rect x="859" y="678" width="4" height="1"/><rect x="875" y="678" width="6" height="1"/><rect x="885" y="678" width="4" height="1"/><rect x="978" y="678" width="2" height="1"/><rect x="169" y="558" width="1" height="1"/><rect x="267" y="558" width="2" height="1"/><rect x="1207" y="558" width="1" height="1"/><rect x="1401" y="558" width="1" height="1"/><rect x="133" y="593" width="1" height="1"/><rect x="354" y="593" width="2" height="1"/><rect x="1183" y="593" width="1" height="1"/><rect x="3" y="695" width="4" height="1"/><rect x="39" y="695" width="2" height="1"/><rect x="767" y="695" width="3" height="1"/><rect x="773" y="695" width="2" height="1"/><rect x="163" y="563" width="1" height="1"/><rect x="275" y="563" width="2" height="1"/><rect x="1204" y="563" width="1" height="1"/><rect x="1406" y="563" width="1" height="1"/><rect x="65" y="684" width="10" height="1"/><rect x="84" y="684" width="1" height="1"/><rect x="528" y="684" width="2" height="1"/><rect x="567" y="684" width="1" height="1"/><rect x="587" y="684" width="1" height="1"/><rect x="607" y="684" width="1" height="1"/><rect x="731" y="684" width="6" height="1"/><rect x="802" y="684" width="3" height="1"/><rect x="953" y="684" width="4" height="1"/><rect x="966" y="684" width="2" height="1"/><rect x="27" y="698" width="9" height="1"/><rect x="111" y="633" width="1" height="1"/><rect x="427" y="633" width="4" height="1"/><rect x="1121" y="633" width="2" height="1"/><rect x="88" y="677" width="1" height="1"/><rect x="513" y="677" width="2" height="1"/><rect x="576" y="677" width="1" height="1"/><rect x="581" y="677" width="1" height="1"/><rect x="617" y="677" width="2" height="1"/><rect x="704" y="677" width="2" height="1"/><rect x="827" y="677" width="6" height="1"/><rect x="856" y="677" width="3" height="1"/><rect x="881" y="677" width="4" height="1"/><rect x="980" y="677" width="2" height="1"/><rect x="116" y="624" width="1" height="1"/><rect x="406" y="624" width="2" height="1"/><rect x="1145" y="624" width="2" height="1"/><rect x="7" y="696" width="8" height="1"/><rect x="38" y="696" width="1" height="1"/><rect x="770" y="696" width="3" height="1"/><rect x="97" y="660" width="1" height="1"/><rect x="488" y="660" width="1" height="1"/><rect x="1081" y="660" width="1" height="1"/><rect x="125" y="608" width="1" height="1"/><rect x="376" y="608" width="1" height="1"/><rect x="1175" y="608" width="1" height="1"/><rect x="97" y="661" width="1" height="1"/><rect x="489" y="661" width="2" height="1"/><rect x="657" y="661" width="6" height="1"/><rect x="1079" y="661" width="2" height="1"/><rect x="108" y="640" width="1" height="1"/><rect x="452" y="640" width="2" height="1"/><rect x="1110" y="640" width="1" height="1"/><rect x="93" y="668" width="1" height="1"/><rect x="499" y="668" width="1" height="1"/><rect x="633" y="668" width="2" height="1"/><rect x="684" y="668" width="2" height="1"/><rect x="1058" y="668" width="3" height="1"/><rect x="114" y="628" width="1" height="1"/><rect x="414" y="628" width="2" height="1"/><rect x="1135" y="628" width="3" height="1"/><rect x="121" y="615" width="1" height="1"/><rect x="385" y="615" width="2" height="1"/><rect x="1172" y="615" width="1" height="1"/><rect x="137" y="588" width="1" height="1"/><rect x="344" y="588" width="2" height="1"/><rect x="1185" y="588" width="1" height="1"/><rect x="1439" y="588" width="2" height="1"/><rect x="179" y="549" width="2" height="1"/><rect x="251" y="549" width="3" height="1"/><rect x="1214" y="549" width="1" height="1"/><rect x="1392" y="549" width="1" height="1"/><rect x="89" y="675" width="1" height="1"/><rect x="510" y="675" width="1" height="1"/><rect x="579" y="675" width="1" height="1"/><rect x="620" y="675" width="2" height="1"/><rect x="699" y="675" width="3" height="1"/><rect x="843" y="675" width="10" height="1"/><rect x="984" y="675" width="2" height="1"/><rect x="172" y="555" width="1" height="1"/><rect x="263" y="555" width="2" height="1"/><rect x="1210" y="555" width="1" height="1"/><rect x="1397" y="555" width="1" height="1"/><rect x="137" y="589" width="1" height="1"/><rect x="346" y="589" width="2" height="1"/><rect x="1185" y="589" width="1" height="1"/><rect x="1441" y="589" width="1" height="1"/><rect x="140" y="585" width="1" height="1"/><rect x="337" y="585" width="3" height="1"/><rect x="1187" y="585" width="1" height="1"/><rect x="1436" y="585" width="1" height="1"/><rect x="42" y="693" width="1" height="1"/><rect x="595" y="693" width="1" height="1"/><rect x="762" y="693" width="3" height="1"/><rect x="777" y="693" width="2" height="1"/><rect x="117" y="622" width="1" height="1"/><rect x="402" y="622" width="2" height="1"/><rect x="1150" y="622" width="2" height="1"/><rect x="177" y="551" width="1" height="1"/><rect x="256" y="551" width="2" height="1"/><rect x="1212" y="551" width="1" height="1"/><rect x="1393" y="551" width="1" height="1"/><rect x="1274" y="499" width="2" height="1"/><rect x="1307" y="499" width="12" height="1"/><rect x="167" y="559" width="2" height="1"/><rect x="269" y="559" width="1" height="1"/><rect x="1207" y="559" width="1" height="1"/><rect x="1402" y="559" width="1" height="1"/><rect x="145" y="578" width="1" height="1"/><rect x="314" y="578" width="3" height="1"/><rect x="1192" y="578" width="1" height="1"/><rect x="1428" y="578" width="1" height="1"/><rect x="54" y="686" width="5" height="1"/><rect x="535" y="686" width="8" height="1"/><rect x="564" y="686" width="1" height="1"/><rect x="589" y="686" width="1" height="1"/><rect x="604" y="686" width="1" height="1"/><rect x="741" y="686" width="3" height="1"/><rect x="795" y="686" width="4" height="1"/><rect x="961" y="686" width="3" height="1"/><rect x="148" y="575" width="1" height="1"/><rect x="306" y="575" width="3" height="1"/><rect x="1195" y="575" width="1" height="1"/><rect x="1423" y="575" width="2" height="1"/><rect x="141" y="583" width="1" height="1"/><rect x="329" y="583" width="4" height="1"/><rect x="1189" y="583" width="1" height="1"/><rect x="1434" y="583" width="1" height="1"/><rect x="1232" y="528" width="1" height="1"/><rect x="1373" y="528" width="1" height="1"/><rect x="175" y="552" width="2" height="1"/><rect x="258" y="552" width="2" height="1"/><rect x="1212" y="552" width="1" height="1"/><rect x="1394" y="552" width="1" height="1"/><rect x="112" y="631" width="1" height="1"/><rect x="421" y="631" width="3" height="1"/><rect x="1125" y="631" width="3" height="1"/><rect x="118" y="621" width="1" height="1"/><rect x="399" y="621" width="3" height="1"/><rect x="1152" y="621" width="2" height="1"/><rect x="92" y="670" width="1" height="1"/><rect x="502" y="670" width="1" height="1"/><rect x="629" y="670" width="2" height="1"/><rect x="688" y="670" width="2" height="1"/><rect x="994" y="670" width="3" height="1"/><rect x="1051" y="670" width="4" height="1"/><rect x="94" y="666" width="1" height="1"/><rect x="496" y="666" width="1" height="1"/><rect x="638" y="666" width="2" height="1"/><rect x="680" y="666" width="2" height="1"/><rect x="1065" y="666" width="4" height="1"/><rect x="1224" y="537" width="1" height="1"/><rect x="1383" y="537" width="1" height="1"/><rect x="103" y="649" width="1" height="1"/><rect x="470" y="649" width="2" height="1"/><rect x="1097" y="649" width="1" height="1"/><rect x="1276" y="498" width="2" height="1"/><rect x="1297" y="498" width="10" height="1"/><rect x="103" y="650" width="1" height="1"/><rect x="472" y="650" width="2" height="1"/><rect x="1095" y="650" width="2" height="1"/><rect x="105" y="646" width="1" height="1"/><rect x="464" y="646" width="2" height="1"/><rect x="1101" y="646" width="1" height="1"/><rect x="46" y="690" width="2" height="1"/><rect x="592" y="690" width="1" height="1"/><rect x="599" y="690" width="1" height="1"/><rect x="754" y="690" width="3" height="1"/><rect x="784" y="690" width="2" height="1"/><rect x="129" y="599" width="1" height="1"/><rect x="363" y="599" width="2" height="1"/><rect x="1180" y="599" width="1" height="1"/><rect x="107" y="642" width="1" height="1"/><rect x="456" y="642" width="2" height="1"/><rect x="1107" y="642" width="1" height="1"/><rect x="135" y="591" width="1" height="1"/><rect x="350" y="591" width="2" height="1"/><rect x="1184" y="591" width="1" height="1"/><rect x="1443" y="591" width="1" height="1"/><rect x="15" y="697" width="12" height="1"/><rect x="36" y="697" width="2" height="1"/><rect x="141" y="584" width="1" height="1"/><rect x="333" y="584" width="4" height="1"/><rect x="1188" y="584" width="1" height="1"/><rect x="1435" y="584" width="1" height="1"/><rect x="112" y="632" width="1" height="1"/><rect x="424" y="632" width="3" height="1"/><rect x="1123" y="632" width="2" height="1"/><rect x="115" y="626" width="1" height="1"/><rect x="410" y="626" width="2" height="1"/><rect x="1141" y="626" width="2" height="1"/><rect x="92" y="669" width="1" height="1"/><rect x="500" y="669" width="2" height="1"/><rect x="631" y="669" width="2" height="1"/><rect x="686" y="669" width="2" height="1"/><rect x="1055" y="669" width="3" height="1"/><rect x="1237" y="523" width="2" height="1"/><rect x="1366" y="523" width="1" height="1"/><rect x="132" y="595" width="1" height="1"/><rect x="358" y="595" width="1" height="1"/><rect x="1182" y="595" width="1" height="1"/><rect x="153" y="571" width="1" height="1"/><rect x="297" y="571" width="2" height="1"/><rect x="1198" y="571" width="1" height="1"/><rect x="1417" y="571" width="2" height="1"/><rect x="1262" y="506" width="1" height="1"/><rect x="1337" y="506" width="2" height="1"/><rect x="174" y="553" width="1" height="1"/><rect x="260" y="553" width="2" height="1"/><rect x="1211" y="553" width="1" height="1"/><rect x="1395" y="553" width="1" height="1"/><rect x="110" y="636" width="1" height="1"/><rect x="437" y="636" width="4" height="1"/><rect x="1116" y="636" width="2" height="1"/><rect x="1245" y="517" width="2" height="1"/><rect x="1354" y="517" width="2" height="1"/><rect x="125" y="607" width="1" height="1"/><rect x="375" y="607" width="1" height="1"/><rect x="1176" y="607" width="1" height="1"/><rect x="85" y="682" width="1" height="1"/><rect x="523" y="682" width="3" height="1"/><rect x="569" y="682" width="2" height="1"/><rect x="585" y="682" width="1" height="1"/><rect x="609" y="682" width="2" height="1"/><rect x="721" y="682" width="5" height="1"/><rect x="808" y="682" width="3" height="1"/><rect x="943" y="682" width="6" height="1"/><rect x="970" y="682" width="2" height="1"/><rect x="100" y="655" width="1" height="1"/><rect x="481" y="655" width="2" height="1"/><rect x="1088" y="655" width="1" height="1"/><rect x="119" y="618" width="1" height="1"/><rect x="391" y="618" width="3" height="1"/><rect x="1161" y="618" width="4" height="1"/><rect x="121" y="614" width="1" height="1"/><rect x="384" y="614" width="1" height="1"/><rect x="1172" y="614" width="1" height="1"/><rect x="128" y="602" width="1" height="1"/><rect x="368" y="602" width="1" height="1"/><rect x="1178" y="602" width="1" height="1"/><rect x="143" y="581" width="1" height="1"/><rect x="322" y="581" width="3" height="1"/><rect x="1190" y="581" width="1" height="1"/><rect x="1431" y="581" width="2" height="1"/><rect x="1221" y="540" width="1" height="1"/><rect x="1385" y="540" width="1" height="1"/><rect x="1222" y="539" width="1" height="1"/><rect x="1384" y="539" width="1" height="1"/><rect x="104" y="648" width="1" height="1"/><rect x="468" y="648" width="2" height="1"/><rect x="1098" y="648" width="1" height="1"/><rect x="106" y="644" width="1" height="1"/><rect x="460" y="644" width="2" height="1"/><rect x="1104" y="644" width="1" height="1"/><rect x="113" y="629" width="1" height="1"/><rect x="416" y="629" width="2" height="1"/><rect x="1131" y="629" width="4" height="1"/><rect x="105" y="645" width="1" height="1"/><rect x="462" y="645" width="2" height="1"/><rect x="1102" y="645" width="2" height="1"/><rect x="166" y="560" width="1" height="1"/><rect x="270" y="560" width="2" height="1"/><rect x="1206" y="560" width="1" height="1"/><rect x="1403" y="560" width="1" height="1"/><rect x="130" y="597" width="1" height="1"/><rect x="361" y="597" width="1" height="1"/><rect x="1181" y="597" width="1" height="1"/><rect x="109" y="638" width="1" height="1"/><rect x="445" y="638" width="4" height="1"/><rect x="1113" y="638" width="2" height="1"/><rect x="127" y="604" width="1" height="1"/><rect x="371" y="604" width="1" height="1"/><rect x="1177" y="604" width="1" height="1"/><rect x="111" y="634" width="1" height="1"/><rect x="431" y="634" width="3" height="1"/><rect x="1119" y="634" width="2" height="1"/><rect x="171" y="556" width="1" height="1"/><rect x="265" y="556" width="1" height="1"/><rect x="1209" y="556" width="1" height="1"/><rect x="1398" y="556" width="1" height="1"/><rect x="118" y="620" width="1" height="1"/><rect x="397" y="620" width="2" height="1"/><rect x="1154" y="620" width="3" height="1"/><rect x="100" y="656" width="1" height="1"/><rect x="483" y="656" width="1" height="1"/><rect x="1086" y="656" width="2" height="1"/><rect x="1225" y="536" width="1" height="1"/><rect x="1382" y="536" width="1" height="1"/><rect x="1240" y="521" width="1" height="1"/><rect x="1362" y="521" width="2" height="1"/><rect x="1231" y="529" width="1" height="1"/><rect x="1374" y="529" width="2" height="1"/><rect x="133" y="594" width="1" height="1"/><rect x="356" y="594" width="2" height="1"/><rect x="1182" y="594" width="1" height="1"/><rect x="136" y="590" width="1" height="1"/><rect x="348" y="590" width="2" height="1"/><rect x="1184" y="590" width="1" height="1"/><rect x="1442" y="590" width="1" height="1"/><rect x="170" y="557" width="1" height="1"/><rect x="266" y="557" width="1" height="1"/><rect x="1208" y="557" width="1" height="1"/><rect x="1399" y="557" width="2" height="1"/><rect x="152" y="572" width="1" height="1"/><rect x="299" y="572" width="3" height="1"/><rect x="1197" y="572" width="1" height="1"/><rect x="1419" y="572" width="1" height="1"/><rect x="110" y="635" width="1" height="1"/><rect x="434" y="635" width="3" height="1"/><rect x="1118" y="635" width="1" height="1"/><rect x="193" y="545" width="6" height="1"/><rect x="241" y="545" width="4" height="1"/><rect x="1217" y="545" width="1" height="1"/><rect x="1389" y="545" width="1" height="1"/><rect x="1265" y="504" width="2" height="1"/><rect x="1335" y="504" width="1" height="1"/><rect x="146" y="577" width="1" height="1"/><rect x="311" y="577" width="3" height="1"/><rect x="1193" y="577" width="1" height="1"/><rect x="1427" y="577" width="1" height="1"/><rect x="151" y="573" width="1" height="1"/><rect x="302" y="573" width="2" height="1"/><rect x="1196" y="573" width="1" height="1"/><rect x="1420" y="573" width="2" height="1"/><rect x="1236" y="524" width="1" height="1"/><rect x="1367" y="524" width="2" height="1"/><rect x="41" y="694" width="1" height="1"/><rect x="765" y="694" width="2" height="1"/><rect x="775" y="694" width="2" height="1"/><rect x="178" y="550" width="1" height="1"/><rect x="254" y="550" width="2" height="1"/><rect x="1213" y="550" width="1" height="1"/><rect x="1393" y="550" width="1" height="1"/><rect x="126" y="606" width="1" height="1"/><rect x="373" y="606" width="2" height="1"/><rect x="1176" y="606" width="1" height="1"/><rect x="102" y="651" width="1" height="1"/><rect x="474" y="651" width="1" height="1"/><rect x="1094" y="651" width="1" height="1"/><rect x="158" y="567" width="1" height="1"/><rect x="287" y="567" width="3" height="1"/><rect x="1201" y="567" width="1" height="1"/><rect x="1411" y="567" width="1" height="1"/><rect x="122" y="613" width="1" height="1"/><rect x="383" y="613" width="1" height="1"/><rect x="1173" y="613" width="1" height="1"/><rect x="128" y="601" width="1" height="1"/><rect x="366" y="601" width="2" height="1"/><rect x="1179" y="601" width="1" height="1"/><rect x="1229" y="531" width="1" height="1"/><rect x="1377" y="531" width="2" height="1"/><rect x="123" y="611" width="1" height="1"/><rect x="380" y="611" width="1" height="1"/><rect x="1174" y="611" width="1" height="1"/><rect x="1252" y="512" width="2" height="1"/><rect x="1345" y="512" width="2" height="1"/><rect x="117" y="623" width="1" height="1"/><rect x="404" y="623" width="2" height="1"/><rect x="1147" y="623" width="3" height="1"/><rect x="129" y="600" width="1" height="1"/><rect x="365" y="600" width="1" height="1"/><rect x="1179" y="600" width="1" height="1"/><rect x="1241" y="520" width="2" height="1"/><rect x="1360" y="520" width="2" height="1"/><rect x="1227" y="533" width="1" height="1"/><rect x="1380" y="533" width="1" height="1"/><rect x="1259" y="508" width="1" height="1"/><rect x="1340" y="508" width="1" height="1"/><rect x="108" y="639" width="1" height="1"/><rect x="449" y="639" width="3" height="1"/><rect x="1111" y="639" width="2" height="1"/><rect x="164" y="562" width="1" height="1"/><rect x="273" y="562" width="2" height="1"/><rect x="1204" y="562" width="1" height="1"/><rect x="1405" y="562" width="1" height="1"/><rect x="142" y="582" width="1" height="1"/><rect x="325" y="582" width="4" height="1"/><rect x="1189" y="582" width="1" height="1"/><rect x="1433" y="582" width="1" height="1"/><rect x="1247" y="516" width="1" height="1"/><rect x="1352" y="516" width="2" height="1"/><rect x="1230" y="530" width="1" height="1"/><rect x="1376" y="530" width="1" height="1"/><rect x="113" y="630" width="1" height="1"/><rect x="418" y="630" width="3" height="1"/><rect x="1128" y="630" width="3" height="1"/><rect x="1268" y="502" width="2" height="1"/><rect x="1332" y="502" width="1" height="1"/><rect x="48" y="689" width="1" height="1"/><rect x="591" y="689" width="1" height="1"/><rect x="600" y="689" width="1" height="1"/><rect x="751" y="689" width="3" height="1"/><rect x="786" y="689" width="3" height="1"/><rect x="157" y="568" width="1" height="1"/><rect x="290" y="568" width="3" height="1"/><rect x="1200" y="568" width="1" height="1"/><rect x="1412" y="568" width="2" height="1"/><rect x="1218" y="544" width="1" height="1"/><rect x="1388" y="544" width="1" height="1"/><rect x="1243" y="519" width="1" height="1"/><rect x="1358" y="519" width="2" height="1"/><rect x="114" y="627" width="1" height="1"/><rect x="412" y="627" width="2" height="1"/><rect x="1138" y="627" width="3" height="1"/><rect x="130" y="598" width="1" height="1"/><rect x="362" y="598" width="1" height="1"/><rect x="1180" y="598" width="1" height="1"/><rect x="165" y="561" width="1" height="1"/><rect x="272" y="561" width="1" height="1"/><rect x="1205" y="561" width="1" height="1"/><rect x="1404" y="561" width="1" height="1"/><rect x="1218" y="543" width="1" height="1"/><rect x="1387" y="543" width="1" height="1"/><rect x="102" y="652" width="1" height="1"/><rect x="475" y="652" width="2" height="1"/><rect x="1092" y="652" width="2" height="1"/><rect x="155" y="569" width="2" height="1"/><rect x="293" y="569" width="2" height="1"/><rect x="1199" y="569" width="1" height="1"/><rect x="1414" y="569" width="1" height="1"/><rect x="98" y="659" width="1" height="1"/><rect x="487" y="659" width="1" height="1"/><rect x="1082" y="659" width="1" height="1"/><rect x="1260" y="507" width="2" height="1"/><rect x="1339" y="507" width="1" height="1"/><rect x="1235" y="525" width="1" height="1"/><rect x="1369" y="525" width="1" height="1"/><rect x="1234" y="526" width="1" height="1"/><rect x="1370" y="526" width="1" height="1"/><rect x="1226" y="535" width="1" height="1"/><rect x="1381" y="535" width="1" height="1"/><rect x="109" y="637" width="1" height="1"/><rect x="441" y="637" width="4" height="1"/><rect x="1115" y="637" width="1" height="1"/><rect x="1267" y="503" width="1" height="1"/><rect x="1333" y="503" width="2" height="1"/><rect x="124" y="610" width="1" height="1"/><rect x="379" y="610" width="1" height="1"/><rect x="1174" y="610" width="1" height="1"/><rect x="1249" y="514" width="2" height="1"/><rect x="1348" y="514" width="2" height="1"/><rect x="1251" y="513" width="1" height="1"/><rect x="1347" y="513" width="1" height="1"/><rect x="1233" y="527" width="1" height="1"/><rect x="1371" y="527" width="2" height="1"/><rect x="131" y="596" width="1" height="1"/><rect x="359" y="596" width="2" height="1"/><rect x="1181" y="596" width="1" height="1"/><rect x="173" y="554" width="1" height="1"/><rect x="262" y="554" width="1" height="1"/><rect x="1210" y="554" width="1" height="1"/><rect x="1396" y="554" width="1" height="1"/><rect x="98" y="658" width="1" height="1"/><rect x="485" y="658" width="2" height="1"/><rect x="1083" y="658" width="2" height="1"/><rect x="1257" y="509" width="2" height="1"/><rect x="1341" y="509" width="2" height="1"/><rect x="1227" y="534" width="1" height="1"/><rect x="1381" y="534" width="1" height="1"/><rect x="1255" y="510" width="2" height="1"/><rect x="1343" y="510" width="1" height="1"/><rect x="1248" y="515" width="1" height="1"/><rect x="1350" y="515" width="2" height="1"/><rect x="1228" y="532" width="1" height="1"/><rect x="1379" y="532" width="1" height="1"/><rect x="1223" y="538" width="1" height="1"/><rect x="1384" y="538" width="1" height="1"/><rect x="1219" y="542" width="1" height="1"/><rect x="1387" y="542" width="1" height="1"/></g>
<g fill="#ff0000"><rect x="109" y="680" width="5" height="1"/><rect x="609" y="680" width="38" height="1"/><rect x="789" y="680" width="12" height="1"/><rect x="910" y="680" width="17" height="1"/><rect x="938" y="680" width="81" height="1"/><rect x="239" y="566" width="4" height="1"/><rect x="344" y="566" width="9" height="1"/><rect x="1265" y="566" width="3" height="1"/><rect x="254" y="559" width="7" height="1"/><rect x="320" y="559" width="8" height="1"/><rect x="1272" y="559" width="3" height="1"/><rect x="113" y="678" width="5" height="1"/><rect x="602" y="678" width="8" height="1"/><rect x="646" y="678" width="16" height="1"/><rect x="778" y="678" width="12" height="1"/><rect x="926" y="678" width="13" height="1"/><rect x="1018" y="678" width="33" height="1"/><rect x="102" y="683" width="5" height="1"/><rect x="806" y="683" width="97" height="1"/><rect x="1305" y="531" width="4" height="1"/><rect x="1430" y="531" width="3" height="1"/><rect x="228" y="575" width="4" height="1"/><rect x="371" y="575" width="5" height="1"/><rect x="1255" y="575" width="3" height="1"/><rect x="1281" y="551" width="3" height="1"/><rect x="92" y="686" width="9" height="1"/><rect x="154" y="648" width="4" height="1"/><rect x="522" y="648" width="6" height="1"/><rect x="1151" y="648" width="6" height="1"/><rect x="238" y="567" width="4" height="1"/><rect x="348" y="567" width="9" height="1"/><rect x="1264" y="567" width="3" height="1"/><rect x="111" y="679" width="5" height="1"/><rect x="606" y="679" width="49" height="1"/><rect x="784" y="679" width="11" height="1"/><rect x="918" y="679" width="117" height="1"/><rect x="273" y="553" width="22" height="1"/><rect x="1279" y="553" width="3" height="1"/><rect x="2" y="692" width="45" height="1"/><rect x="162" y="642" width="3" height="1"/><rect x="510" y="642" width="5" height="1"/><rect x="1169" y="642" width="5" height="1"/><rect x="158" y="645" width="4" height="1"/><rect x="516" y="645" width="5" height="1"/><rect x="1159" y="645" width="8" height="1"/><rect x="163" y="641" width="3" height="1"/><rect x="508" y="641" width="5" height="1"/><rect x="1171" y="641" width="5" height="1"/><rect x="1297" y="537" width="3" height="1"/><rect x="1438" y="537" width="3" height="1"/><rect x="252" y="560" width="6" height="1"/><rect x="324" y="560" width="7" height="1"/><rect x="1271" y="560" width="3" height="1"/><rect x="174" y="630" width="3" height="1"/><rect x="487" y="630" width="5" height="1"/><rect x="1190" y="630" width="3" height="1"/><rect x="125" y="671" width="4" height="1"/><rect x="582" y="671" width="7" height="1"/><rect x="1088" y="671" width="8" height="1"/><rect x="141" y="659" width="3" height="1"/><rect x="548" y="659" width="5" height="1"/><rect x="1126" y="659" width="7" height="1"/><rect x="1321" y="520" width="4" height="1"/><rect x="1409" y="520" width="5" height="1"/><rect x="190" y="613" width="3" height="1"/><rect x="452" y="613" width="5" height="1"/><rect x="1211" y="613" width="3" height="1"/><rect x="120" y="674" width="4" height="1"/><rect x="590" y="674" width="7" height="1"/><rect x="672" y="674" width="27" height="1"/><rect x="757" y="674" width="12" height="1"/><rect x="1070" y="674" width="13" height="1"/><rect x="74" y="689" width="15" height="1"/><rect x="123" y="672" width="4" height="1"/><rect x="585" y="672" width="6" height="1"/><rect x="698" y="672" width="60" height="1"/><rect x="1082" y="672" width="11" height="1"/><rect x="260" y="557" width="7" height="1"/><rect x="309" y="557" width="12" height="1"/><rect x="1274" y="557" width="4" height="1"/><rect x="220" y="583" width="3" height="1"/><rect x="388" y="583" width="6" height="1"/><rect x="1246" y="583" width="4" height="1"/><rect x="104" y="682" width="6" height="1"/><rect x="800" y="682" width="15" height="1"/><rect x="890" y="682" width="21" height="1"/><rect x="1328" y="515" width="5" height="1"/><rect x="1398" y="515" width="5" height="1"/><rect x="1342" y="510" width="13" height="1"/><rect x="1380" y="510" width="9" height="1"/><rect x="1294" y="539" width="4" height="1"/><rect x="1440" y="539" width="4" height="1"/><rect x="167" y="637" width="3" height="1"/><rect x="501" y="637" width="5" height="1"/><rect x="1178" y="637" width="5" height="1"/><rect x="1338" y="511" width="8" height="1"/><rect x="1384" y="511" width="9" height="1"/><rect x="171" y="633" width="3" height="1"/><rect x="493" y="633" width="5" height="1"/><rect x="1186" y="633" width="3" height="1"/><rect x="117" y="676" width="4" height="1"/><rect x="596" y="676" width="7" height="1"/><rect x="661" y="676" width="12" height="1"/><rect x="768" y="676" width="11" height="1"/><rect x="1050" y="676" width="21" height="1"/><rect x="134" y="665" width="3" height="1"/><rect x="561" y="665" width="8" height="1"/><rect x="1108" y="665" width="7" height="1"/><rect x="122" y="673" width="4" height="1"/><rect x="588" y="673" width="6" height="1"/><rect x="682" y="673" width="81" height="1"/><rect x="1077" y="673" width="12" height="1"/><rect x="1335" y="512" width="8" height="1"/><rect x="1388" y="512" width="9" height="1"/><rect x="266" y="555" width="8" height="1"/><rect x="294" y="555" width="16" height="1"/><rect x="1277" y="555" width="3" height="1"/><rect x="221" y="582" width="3" height="1"/><rect x="385" y="582" width="6" height="1"/><rect x="1247" y="582" width="4" height="1"/><rect x="106" y="681" width="6" height="1"/><rect x="794" y="681" width="13" height="1"/><rect x="902" y="681" width="17" height="1"/><rect x="236" y="569" width="3" height="1"/><rect x="356" y="569" width="6" height="1"/><rect x="1262" y="569" width="3" height="1"/><rect x="1288" y="545" width="3" height="1"/><rect x="175" y="629" width="3" height="1"/><rect x="485" y="629" width="5" height="1"/><rect x="1191" y="629" width="4" height="1"/><rect x="257" y="558" width="7" height="1"/><rect x="314" y="558" width="11" height="1"/><rect x="1273" y="558" width="4" height="1"/><rect x="115" y="677" width="4" height="1"/><rect x="599" y="677" width="8" height="1"/><rect x="654" y="677" width="13" height="1"/><rect x="773" y="677" width="12" height="1"/><rect x="1034" y="677" width="29" height="1"/><rect x="131" y="667" width="4" height="1"/><rect x="568" y="667" width="9" height="1"/><rect x="1102" y="667" width="7" height="1"/><rect x="135" y="664" width="3" height="1"/><rect x="559" y="664" width="6" height="1"/><rect x="1111" y="664" width="8" height="1"/><rect x="233" y="571" width="4" height="1"/><rect x="361" y="571" width="6" height="1"/><rect x="1260" y="571" width="3" height="1"/><rect x="138" y="661" width="4" height="1"/><rect x="552" y="661" width="6" height="1"/><rect x="1121" y="661" width="6" height="1"/><rect x="1354" y="508" width="27" height="1"/><rect x="136" y="663" width="3" height="1"/><rect x="557" y="663" width="5" height="1"/><rect x="1114" y="663" width="8" height="1"/><rect x="196" y="607" width="3" height="1"/><rect x="438" y="607" width="5" height="1"/><rect x="1218" y="607" width="3" height="1"/><rect x="142" y="658" width="4" height="1"/><rect x="545" y="658" width="6" height="1"/><rect x="1129" y="658" width="6" height="1"/><rect x="147" y="654" width="4" height="1"/><rect x="536" y="654" width="6" height="1"/><rect x="1139" y="654" width="5" height="1"/><rect x="1306" y="530" width="4" height="1"/><rect x="1428" y="530" width="4" height="1"/><rect x="193" y="610" width="3" height="1"/><rect x="445" y="610" width="5" height="1"/><rect x="1214" y="610" width="4" height="1"/><rect x="237" y="568" width="3" height="1"/><rect x="352" y="568" width="7" height="1"/><rect x="1263" y="568" width="3" height="1"/><rect x="200" y="603" width="3" height="1"/><rect x="430" y="603" width="5" height="1"/><rect x="1222" y="603" width="4" height="1"/><rect x="1330" y="514" width="6" height="1"/><rect x="1396" y="514" width="5" height="1"/><rect x="187" y="616" width="3" height="1"/><rect x="458" y="616" width="6" height="1"/><rect x="1208" y="616" width="3" height="1"/><rect x="249" y="561" width="6" height="1"/><rect x="327" y="561" width="8" height="1"/><rect x="1270" y="561" width="3" height="1"/><rect x="1309" y="528" width="4" height="1"/><rect x="1425" y="528" width="4" height="1"/><rect x="184" y="620" width="3" height="1"/><rect x="467" y="620" width="5" height="1"/><rect x="1203" y="620" width="3" height="1"/><rect x="132" y="666" width="4" height="1"/><rect x="564" y="666" width="9" height="1"/><rect x="1105" y="666" width="7" height="1"/><rect x="241" y="565" width="4" height="1"/><rect x="340" y="565" width="9" height="1"/><rect x="1266" y="565" width="3" height="1"/><rect x="118" y="675" width="5" height="1"/><rect x="593" y="675" width="7" height="1"/><rect x="666" y="675" width="17" height="1"/><rect x="762" y="675" width="12" height="1"/><rect x="1062" y="675" width="16" height="1"/><rect x="166" y="638" width="3" height="1"/><rect x="503" y="638" width="4" height="1"/><rect x="1177" y="638" width="4" height="1"/><rect x="182" y="622" width="3" height="1"/><rect x="471" y="622" width="5" height="1"/><rect x="1200" y="622" width="4" height="1"/><rect x="173" y="631" width="3" height="1"/><rect x="489" y="631" width="5" height="1"/><rect x="1188" y="631" width="4" height="1"/><rect x="170" y="634" width="3" height="1"/><rect x="495" y="634" width="5" height="1"/><rect x="1184" y="634" width="4" height="1"/><rect x="202" y="600" width="3" height="1"/><rect x="425" y="600" width="4" height="1"/><rect x="1226" y="600" width="3" height="1"/><rect x="130" y="668" width="3" height="1"/><rect x="572" y="668" width="9" height="1"/><rect x="1098" y="668" width="8" height="1"/><rect x="2" y="691" width="9" height="1"/><rect x="38" y="691" width="37" height="1"/><rect x="181" y="623" width="3" height="1"/><rect x="473" y="623" width="5" height="1"/><rect x="1199" y="623" width="4" height="1"/><rect x="172" y="632" width="3" height="1"/><rect x="491" y="632" width="5" height="1"/><rect x="1187" y="632" width="4" height="1"/><rect x="226" y="577" width="3" height="1"/><rect x="375" y="577" width="5" height="1"/><rect x="1253" y="577" width="3" height="1"/><rect x="1318" y="522" width="4" height="1"/><rect x="1413" y="522" width="5" height="1"/><rect x="128" y="669" width="4" height="1"/><rect x="576" y="669" width="7" height="1"/><rect x="1095" y="669" width="8" height="1"/><rect x="126" y="670" width="5" height="1"/><rect x="580" y="670" width="6" height="1"/><rect x="1092" y="670" width="7" height="1"/><rect x="234" y="570" width="4" height="1"/><rect x="358" y="570" width="7" height="1"/><rect x="1261" y="570" width="3" height="1"/><rect x="224" y="579" width="3" height="1"/><rect x="379" y="579" width="5" height="1"/><rect x="1251" y="579" width="3" height="1"/><rect x="186" y="618" width="2" height="1"/><rect x="463" y="618" width="5" height="1"/><rect x="1205" y="618" width="4" height="1"/><rect x="194" y="609" width="3" height="1"/><rect x="442" y="609" width="6" height="1"/><rect x="1216" y="609" width="3" height="1"/><rect x="208" y="594" width="3" height="1"/><rect x="413" y="594" width="5" height="1"/><rect x="1233" y="594" width="3" height="1"/><rect x="263" y="556" width="8" height="1"/><rect x="302" y="556" width="13" height="1"/><rect x="1276" y="556" width="3" height="1"/><rect x="189" y="614" width="3" height="1"/><rect x="454" y="614" width="5" height="1"/><rect x="1210" y="614" width="3" height="1"/><rect x="197" y="606" width="3" height="1"/><rect x="436" y="606" width="5" height="1"/><rect x="1219" y="606" width="3" height="1"/><rect x="46" y="690" width="39" height="1"/><rect x="188" y="615" width="3" height="1"/><rect x="456" y="615" width="6" height="1"/><rect x="1209" y="615" width="3" height="1"/><rect x="1327" y="516" width="4" height="1"/><rect x="1400" y="516" width="6" height="1"/><rect x="1304" y="532" width="3" height="1"/><rect x="1431" y="532" width="4" height="1"/><rect x="179" y="625" width="3" height="1"/><rect x="477" y="625" width="5" height="1"/><rect x="1196" y="625" width="4" height="1"/><rect x="214" y="588" width="3" height="1"/><rect x="401" y="588" width="5" height="1"/><rect x="1240" y="588" width="3" height="1"/><rect x="100" y="684" width="5" height="1"/><rect x="814" y="684" width="77" height="1"/><rect x="159" y="644" width="4" height="1"/><rect x="514" y="644" width="5" height="1"/><rect x="1162" y="644" width="8" height="1"/><rect x="169" y="635" width="3" height="1"/><rect x="497" y="635" width="5" height="1"/><rect x="1182" y="635" width="5" height="1"/><rect x="242" y="564" width="5" height="1"/><rect x="337" y="564" width="8" height="1"/><rect x="1267" y="564" width="3" height="1"/><rect x="215" y="587" width="3" height="1"/><rect x="398" y="587" width="6" height="1"/><rect x="1241" y="587" width="4" height="1"/><rect x="177" y="627" width="3" height="1"/><rect x="481" y="627" width="5" height="1"/><rect x="1194" y="627" width="3" height="1"/><rect x="206" y="596" width="3" height="1"/><rect x="417" y="596" width="5" height="1"/><rect x="1230" y="596" width="4" height="1"/><rect x="1332" y="513" width="7" height="1"/><rect x="1392" y="513" width="7" height="1"/><rect x="218" y="584" width="4" height="1"/><rect x="390" y="584" width="7" height="1"/><rect x="1245" y="584" width="3" height="1"/><rect x="223" y="580" width="3" height="1"/><rect x="381" y="580" width="5" height="1"/><rect x="1250" y="580" width="3" height="1"/><rect x="227" y="576" width="4" height="1"/><rect x="373" y="576" width="5" height="1"/><rect x="1254" y="576" width="3" height="1"/><rect x="201" y="602" width="3" height="1"/><rect x="428" y="602" width="5" height="1"/><rect x="1224" y="602" width="3" height="1"/><rect x="232" y="572" width="3" height="1"/><rect x="364" y="572" width="6" height="1"/><rect x="1258" y="572" width="4" height="1"/><rect x="192" y="611" width="3" height="1"/><rect x="447" y="611" width="6" height="1"/><rect x="1213" y="611" width="4" height="1"/><rect x="212" y="590" width="3" height="1"/><rect x="405" y="590" width="5" height="1"/><rect x="1238" y="590" width="3" height="1"/><rect x="1312" y="526" width="4" height="1"/><rect x="1421" y="526" width="5" height="1"/><rect x="185" y="619" width="3" height="1"/><rect x="465" y="619" width="5" height="1"/><rect x="1204" y="619" width="3" height="1"/><rect x="1283" y="549" width="3" height="1"/><rect x="270" y="554" width="33" height="1"/><rect x="1278" y="554" width="3" height="1"/><rect x="143" y="657" width="4" height="1"/><rect x="543" y="657" width="6" height="1"/><rect x="1132" y="657" width="6" height="1"/><rect x="1301" y="534" width="4" height="1"/><rect x="1434" y="534" width="3" height="1"/><rect x="209" y="593" width="3" height="1"/><rect x="411" y="593" width="5" height="1"/><rect x="1234" y="593" width="3" height="1"/><rect x="165" y="639" width="3" height="1"/><rect x="505" y="639" width="4" height="1"/><rect x="1175" y="639" width="4" height="1"/><rect x="207" y="595" width="3" height="1"/><rect x="415" y="595" width="5" height="1"/><rect x="1232" y="595" width="3" height="1"/><rect x="164" y="640" width="3" height="1"/><rect x="506" y="640" width="5" height="1"/><rect x="1173" y="640" width="5" height="1"/><rect x="168" y="636" width="3" height="1"/><rect x="499" y="636" width="5" height="1"/><rect x="1180" y="636" width="5" height="1"/><rect x="1291" y="542" width="3" height="1"/><rect x="213" y="589" width="3" height="1"/><rect x="403" y="589" width="5" height="1"/><rect x="1239" y="589" width="3" height="1"/><rect x="140" y="660" width="3" height="1"/><rect x="550" y="660" width="5" height="1"/><rect x="1124" y="660" width="6" height="1"/><rect x="152" y="650" width="3" height="1"/><rect x="527" y="650" width="6" height="1"/><rect x="1147" y="650" width="5" height="1"/><rect x="151" y="651" width="3" height="1"/><rect x="529" y="651" width="6" height="1"/><rect x="1145" y="651" width="5" height="1"/><rect x="230" y="574" width="3" height="1"/><rect x="369" y="574" width="5" height="1"/><rect x="1256" y="574" width="3" height="1"/><rect x="145" y="656" width="3" height="1"/><rect x="541" y="656" width="5" height="1"/><rect x="1134" y="656" width="6" height="1"/><rect x="198" y="605" width="3" height="1"/><rect x="434" y="605" width="5" height="1"/><rect x="1220" y="605" width="3" height="1"/><rect x="1317" y="523" width="4" height="1"/><rect x="1415" y="523" width="5" height="1"/><rect x="1345" y="509" width="40" height="1"/><rect x="1296" y="538" width="3" height="1"/><rect x="1439" y="538" width="4" height="1"/><rect x="178" y="626" width="3" height="1"/><rect x="479" y="626" width="5" height="1"/><rect x="1195" y="626" width="4" height="1"/><rect x="225" y="578" width="3" height="1"/><rect x="377" y="578" width="5" height="1"/><rect x="1252" y="578" width="3" height="1"/><rect x="137" y="662" width="4" height="1"/><rect x="554" y="662" width="6" height="1"/><rect x="1118" y="662" width="7" height="1"/><rect x="1298" y="536" width="4" height="1"/><rect x="1436" y="536" width="4" height="1"/><rect x="10" y="693" width="29" height="1"/><rect x="195" y="608" width="3" height="1"/><rect x="440" y="608" width="6" height="1"/><rect x="1217" y="608" width="3" height="1"/><rect x="1302" y="533" width="4" height="1"/><rect x="1432" y="533" width="4" height="1"/><rect x="204" y="598" width="3" height="1"/><rect x="421" y="598" width="5" height="1"/><rect x="1228" y="598" width="3" height="1"/><rect x="203" y="599" width="3" height="1"/><rect x="423" y="599" width="4" height="1"/><rect x="1227" y="599" width="3" height="1"/><rect x="161" y="643" width="3" height="1"/><rect x="512" y="643" width="5" height="1"/><rect x="1166" y="643" width="6" height="1"/><rect x="180" y="624" width="3" height="1"/><rect x="475" y="624" width="5" height="1"/><rect x="1198" y="624" width="3" height="1"/><rect x="157" y="646" width="3" height="1"/><rect x="518" y="646" width="5" height="1"/><rect x="1156" y="646" width="7" height="1"/><rect x="146" y="655" width="3" height="1"/><rect x="538" y="655" width="6" height="1"/><rect x="1137" y="655" width="5" height="1"/><rect x="1308" y="529" width="4" height="1"/><rect x="1427" y="529" width="4" height="1"/><rect x="222" y="581" width="3" height="1"/><rect x="383" y="581" width="6" height="1"/><rect x="1249" y="581" width="3" height="1"/><rect x="153" y="649" width="4" height="1"/><rect x="525" y="649" width="5" height="1"/><rect x="1149" y="649" width="5" height="1"/><rect x="183" y="621" width="3" height="1"/><rect x="469" y="621" width="5" height="1"/><rect x="1202" y="621" width="3" height="1"/><rect x="1289" y="544" width="3" height="1"/><rect x="1311" y="527" width="4" height="1"/><rect x="1423" y="527" width="5" height="1"/><rect x="199" y="604" width="3" height="1"/><rect x="432" y="604" width="5" height="1"/><rect x="1221" y="604" width="4" height="1"/><rect x="202" y="601" width="2" height="1"/><rect x="426" y="601" width="5" height="1"/><rect x="1225" y="601" width="3" height="1"/><rect x="84" y="688" width="9" height="1"/><rect x="211" y="591" width="3" height="1"/><rect x="407" y="591" width="5" height="1"/><rect x="1236" y="591" width="4" height="1"/><rect x="1322" y="519" width="4" height="1"/><rect x="1407" y="519" width="5" height="1"/><rect x="217" y="585" width="4" height="1"/><rect x="393" y="585" width="6" height="1"/><rect x="1244" y="585" width="3" height="1"/><rect x="1315" y="524" width="4" height="1"/><rect x="1417" y="524" width="5" height="1"/><rect x="1286" y="546" width="4" height="1"/><rect x="88" y="687" width="9" height="1"/><rect x="205" y="597" width="3" height="1"/><rect x="419" y="597" width="5" height="1"/><rect x="1229" y="597" width="4" height="1"/><rect x="246" y="562" width="7" height="1"/><rect x="330" y="562" width="8" height="1"/><rect x="1269" y="562" width="3" height="1"/><rect x="1293" y="540" width="4" height="1"/><rect x="1442" y="540" width="2" height="1"/><rect x="244" y="563" width="6" height="1"/><rect x="334" y="563" width="7" height="1"/><rect x="1268" y="563" width="3" height="1"/><rect x="148" y="653" width="4" height="1"/><rect x="534" y="653" width="5" height="1"/><rect x="1141" y="653" width="5" height="1"/><rect x="186" y="617" width="3" height="1"/><rect x="461" y="617" width="5" height="1"/><rect x="1206" y="617" width="4" height="1"/><rect x="1325" y="517" width="4" height="1"/><rect x="1402" y="517" width="6" height="1"/><rect x="1314" y="525" width="4" height="1"/><rect x="1419" y="525" width="5" height="1"/><rect x="1320" y="521" width="3" height="1"/><rect x="1411" y="521" width="5" height="1"/><rect x="176" y="628" width="3" height="1"/><rect x="483" y="628" width="5" height="1"/><rect x="1192" y="628" width="4" height="1"/><rect x="150" y="652" width="3" height="1"/><rect x="532" y="652" width="5" height="1"/><rect x="1143" y="652" width="5" height="1"/><rect x="1299" y="535" width="4" height="1"/><rect x="1435" y="535" width="4" height="1"/><rect x="1324" y="518" width="4" height="1"/><rect x="1405" y="518" width="5" height="1"/><rect x="231" y="573" width="3" height="1"/><rect x="366" y="573" width="6" height="1"/><rect x="1257" y="573" width="4" height="1"/><rect x="96" y="685" width="7" height="1"/><rect x="1280" y="552" width="3" height="1"/><rect x="156" y="647" width="3" height="1"/><rect x="520" y="647" width="6" height="1"/><rect x="1153" y="647" width="7" height="1"/><rect x="191" y="612" width="3" height="1"/><rect x="449" y="612" width="6" height="1"/><rect x="1212" y="612" width="3" height="1"/><rect x="210" y="592" width="3" height="1"/><rect x="409" y="592" width="5" height="1"/><rect x="1235" y="592" width="4" height="1"/><rect x="216" y="586" width="3" height="1"/><rect x="396" y="586" width="6" height="1"/><rect x="1242" y="586" width="4" height="1"/><rect x="1284" y="548" width="3" height="1"/><rect x="1292" y="541" width="3" height="1"/><rect x="1285" y="547" width="4" height="1"/><rect x="1290" y="543" width="3" height="1"/><rect x="1282" y="550" width="3" height="1"/></g>
</g>
<text x="6.70" y="499" fill="#000" font-size="12.5" textLength="85.06" lengthAdjust="spacingAndGlyphs">MACD(12,26,9)</text>
<text x="96.31" y="499" fill="#000" font-size="12.5" textLength="38.69" lengthAdjust="spacingAndGlyphs">0.0959</text>
<text x="139.41" y="499" fill="#000" font-size="12.5" textLength="38.62" lengthAdjust="spacingAndGlyphs">0.1935</text>
<text x="182.11" y="499" fill="#000" font-size="12.5" textLength="38.28" lengthAdjust="spacingAndGlyphs">0.0000</text>
<text x="224.43" y="499" fill="#000" font-size="12.5" textLength="43.84" lengthAdjust="spacingAndGlyphs">-0.1268</text>
<text x="1856.00" y="497" fill="#000" font-size="12.5" textLength="39.18" lengthAdjust="spacingAndGlyphs">0.2965</text>
<text x="1856.00" y="648" fill="#000" font-size="12.5" textLength="24.76" lengthAdjust="spacingAndGlyphs">0.00</text>
<text x="1855.63" y="719" fill="#000" font-size="12.5" textLength="36.21" lengthAdjust="spacingAndGlyphs">-0.147</text>
<g shape-rendering="crispEdges" fill="#000">
<rect x="3" y="723" width="1" height="3"/>
<rect x="99" y="723" width="1" height="3"/>
<rect x="195" y="723" width="1" height="3"/>
<rect x="291" y="723" width="1" height="3"/>
<rect x="387" y="723" width="1" height="3"/>
<rect x="483" y="723" width="1" height="3"/>
<rect x="579" y="723" width="1" height="3"/>
<rect x="675" y="723" width="1" height="3"/>
<rect x="771" y="723" width="1" height="3"/>
<rect x="867" y="723" width="1" height="3"/>
<rect x="963" y="723" width="1" height="3"/>
<rect x="1059" y="723" width="1" height="3"/>
<rect x="1155" y="723" width="1" height="3"/>
<rect x="1251" y="723" width="1" height="3"/>
<rect x="1347" y="723" width="1" height="3"/>
<rect x="1443" y="723" width="1" height="3"/>
</g>
<text x="1.97" y="738" fill="#000" font-size="12.5" textLength="70.71" lengthAdjust="spacingAndGlyphs">11&#160;May&#160;2021</text>
<text x="97.96" y="738" fill="#000" font-size="12.5" textLength="74.58" lengthAdjust="spacingAndGlyphs">12&#160;May&#160;12:00</text>
<text x="193.96" y="738" fill="#000" font-size="12.5" textLength="74.58" lengthAdjust="spacingAndGlyphs">13&#160;May&#160;12:00</text>
<text x="289.96" y="738" fill="#000" font-size="12.5" textLength="74.58" lengthAdjust="spacingAndGlyphs">14&#160;May&#160;12:00</text>
<text x="385.96" y="738" fill="#000" font-size="12.5" textLength="74.58" lengthAdjust="spacingAndGlyphs">17&#160;May&#160;08:00</text>
<text x="481.96" y="738" fill="#000" font-size="12.5" textLength="74.58" lengthAdjust="spacingAndGlyphs">18&#160;May&#160;08:00</text>
<text x="577.96" y="738" fill="#000" font-size="12.5" textLength="74.58" lengthAdjust="spacingAndGlyphs">19&#160;May&#160;08:00</text>
<text x="674.28" y="738" fill="#000" font-size="12.5" textLength="74.66" lengthAdjust="spacingAndGlyphs">20&#160;May&#160;08:00</text>
<text x="770.28" y="738" fill="#000" font-size="12.5" textLength="74.66" lengthAdjust="spacingAndGlyphs">21&#160;May&#160;08:00</text>
<text x="866.28" y="738" fill="#000" font-size="12.5" textLength="74.66" lengthAdjust="spacingAndGlyphs">24&#160;May&#160;04:00</text>
<text x="962.28" y="738" fill="#000" font-size="12.5" textLength="74.66" lengthAdjust="spacingAndGlyphs">25&#160;May&#160;04:00</text>
<text x="1058.28" y="738" fill="#000" font-size="12.5" textLength="74.66" lengthAdjust="spacingAndGlyphs">26&#160;May&#160;04:00</text>
<text x="1154.28" y="738" fill="#000" font-size="12.5" textLength="74.66" lengthAdjust="spacingAndGlyphs">27&#160;May&#160;04:00</text>
<text x="1250.28" y="738" fill="#000" font-size="12.5" textLength="74.66" lengthAdjust="spacingAndGlyphs">28&#160;May&#160;04:00</text>
<text x="1346.43" y="738" fill="#000" font-size="12.5" textLength="74.48" lengthAdjust="spacingAndGlyphs">31&#160;May&#160;00:00</text>
<text x="1442.00" y="738" fill="#000" font-size="12.5" textLength="62.03" lengthAdjust="spacingAndGlyphs">1&#160;Jun&#160;00:00</text>
</svg></body></html>
